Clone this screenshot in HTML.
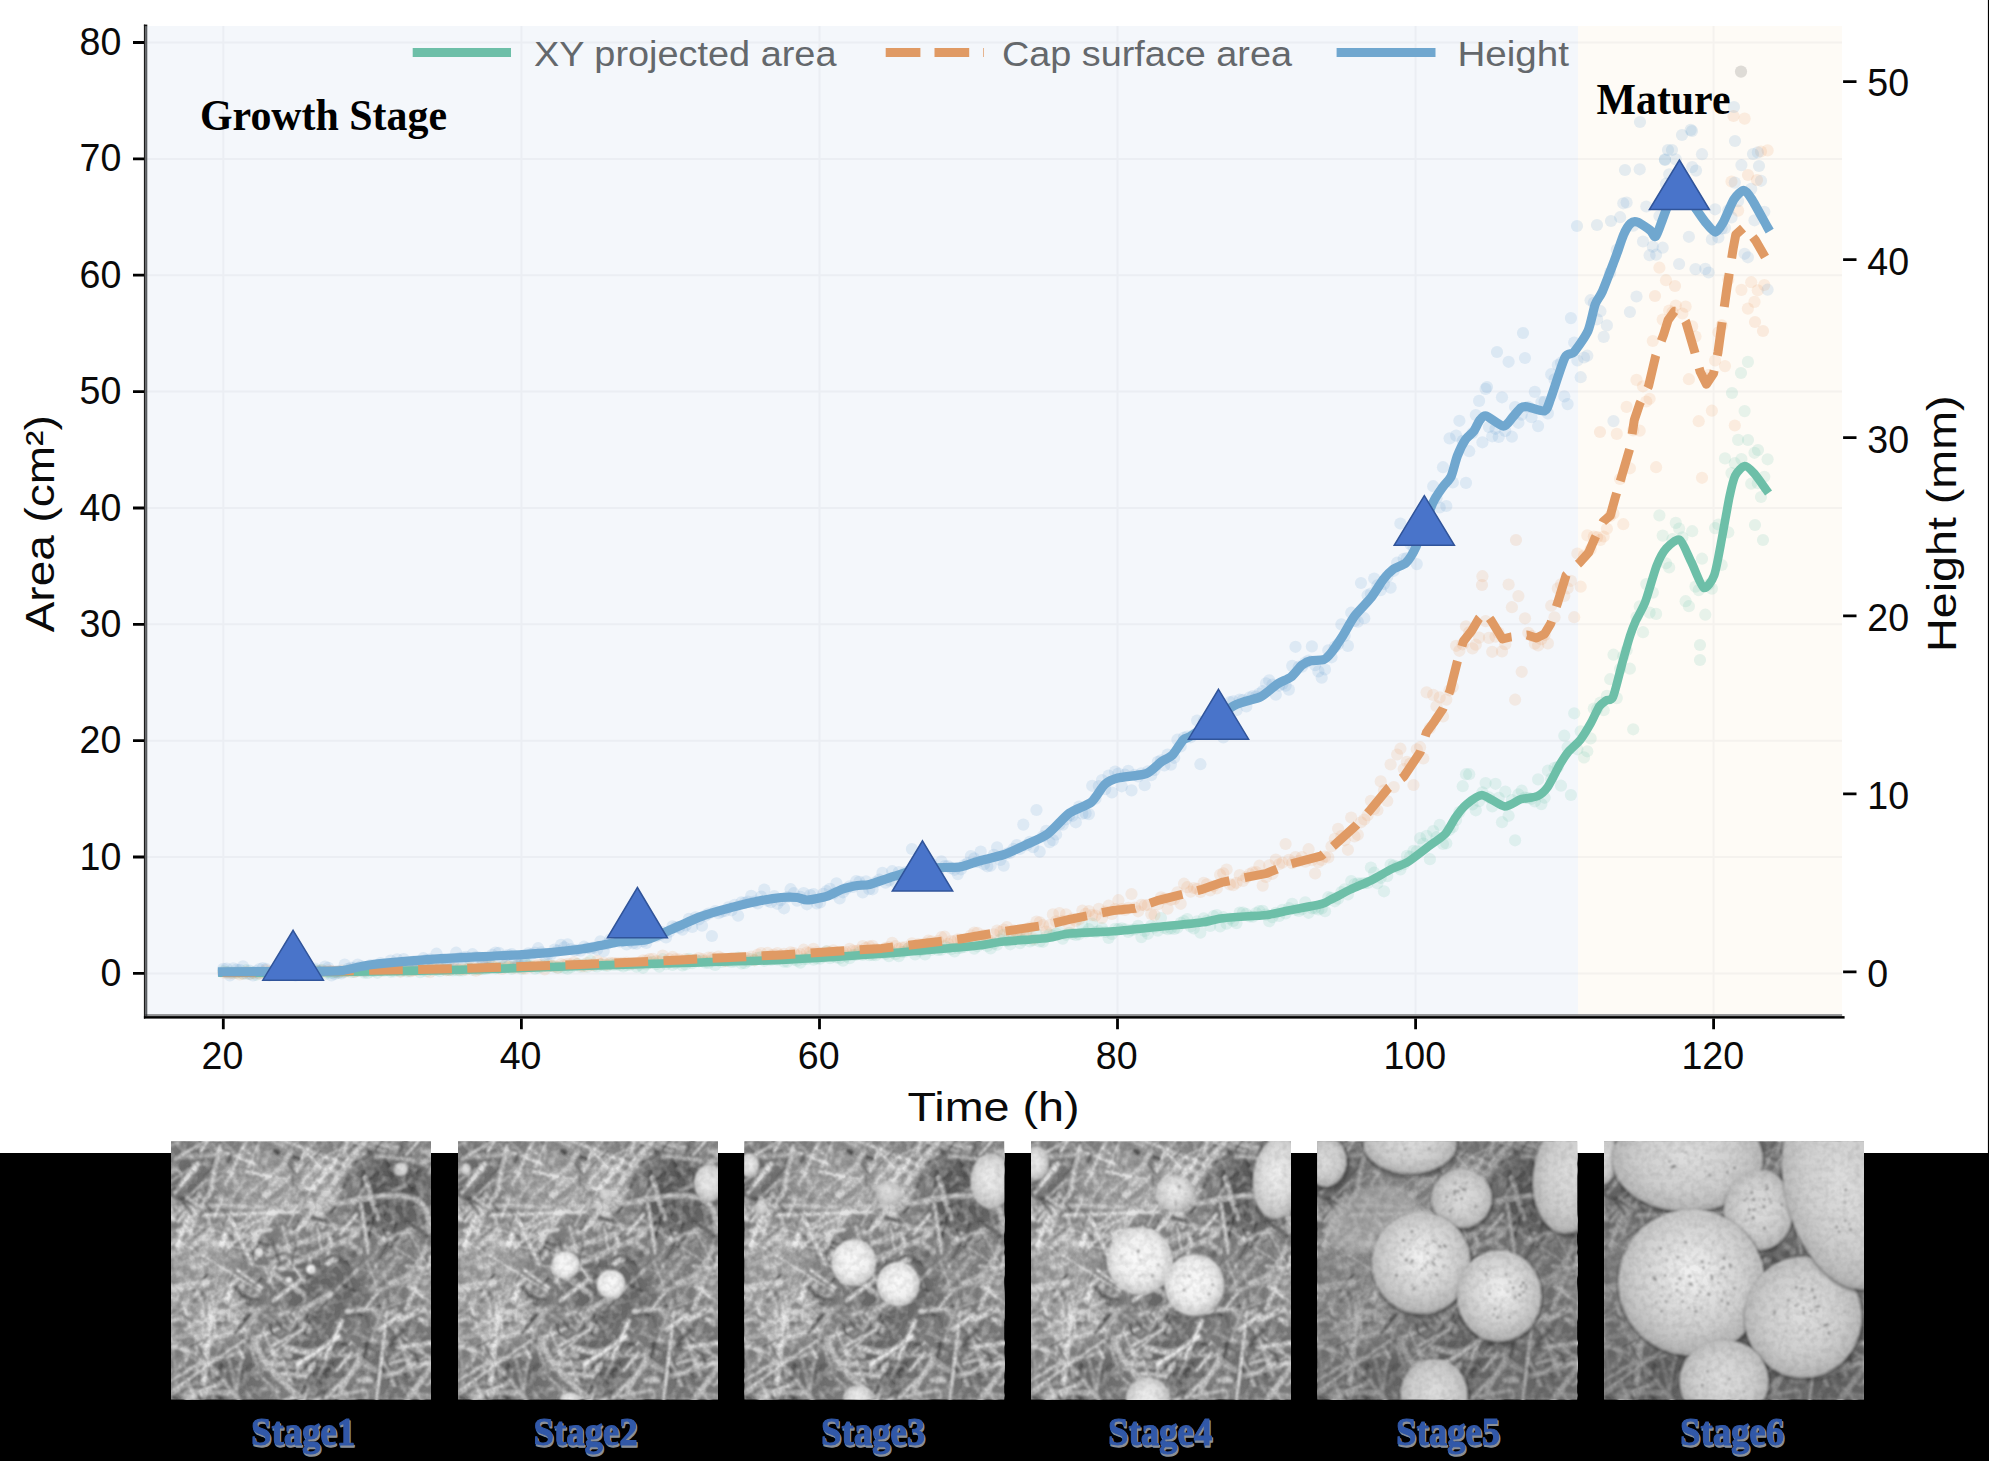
<!DOCTYPE html>
<html><head><meta charset="utf-8"><title>Mushroom growth</title>
<style>
html,body{margin:0;padding:0;background:#fff;}
body{width:1989px;height:1461px;overflow:hidden;position:relative;font-family:"Liberation Sans",sans-serif;}
</style></head><body>
<svg width="1989" height="1461" viewBox="0 0 1989 1461" style="position:absolute;left:0;top:0;display:block">
<rect width="1989" height="1461" fill="#fff"/>
<rect x="147" y="26" width="1431" height="988.2" fill="#f4f7fb"/>
<rect x="1578" y="26" width="264" height="988.2" fill="#fefbf6"/>
<path d="M147 973.4 H1842 M147 857 H1842 M147 740.7 H1842 M147 624.3 H1842 M147 508 H1842 M147 391.6 H1842 M147 275.2 H1842 M147 158.9 H1842 M147 42.5 H1842 M223.3 26 V1014.2 M521.4 26 V1014.2 M819.5 26 V1014.2 M1117.5 26 V1014.2 M1415.6 26 V1014.2 M1713.6 26 V1014.2" stroke="#7c848c" stroke-width="2" fill="none" opacity="0.07"/>
<g fill="#66c2a5" fill-opacity="0.15"><circle cx="223.3" cy="971.1" r="6.1"/><circle cx="226.6" cy="972.1" r="6.1"/><circle cx="229.9" cy="972.3" r="6.1"/><circle cx="233.2" cy="972.5" r="6.1"/><circle cx="236.5" cy="972.8" r="6.1"/><circle cx="239.7" cy="972.4" r="6.1"/><circle cx="243" cy="973.7" r="6.1"/><circle cx="246.3" cy="970.2" r="6.1"/><circle cx="249.6" cy="973.8" r="6.1"/><circle cx="252.9" cy="972.4" r="6.1"/><circle cx="256.1" cy="974.8" r="6.1"/><circle cx="259.4" cy="972.9" r="6.1"/><circle cx="262.7" cy="972.7" r="6.1"/><circle cx="266" cy="972.8" r="6.1"/><circle cx="269.3" cy="973.2" r="6.1"/><circle cx="272.5" cy="971.8" r="6.1"/><circle cx="275.8" cy="972.1" r="6.1"/><circle cx="279.1" cy="971.8" r="6.1"/><circle cx="282.4" cy="974.1" r="6.1"/><circle cx="285.6" cy="972.5" r="6.1"/><circle cx="288.9" cy="972.6" r="6.1"/><circle cx="292.2" cy="974" r="6.1"/><circle cx="295.5" cy="971.2" r="6.1"/><circle cx="298.8" cy="973.4" r="6.1"/><circle cx="302" cy="972.5" r="6.1"/><circle cx="305.3" cy="972.4" r="6.1"/><circle cx="308.6" cy="970.1" r="6.1"/><circle cx="311.9" cy="972.8" r="6.1"/><circle cx="315.2" cy="970.1" r="6.1"/><circle cx="318.4" cy="971.2" r="6.1"/><circle cx="321.7" cy="969.8" r="6.1"/><circle cx="325" cy="974" r="6.1"/><circle cx="328.3" cy="972.1" r="6.1"/><circle cx="331.5" cy="972.9" r="6.1"/><circle cx="334.8" cy="972.5" r="6.1"/><circle cx="338.1" cy="972.9" r="6.1"/><circle cx="341.4" cy="971.9" r="6.1"/><circle cx="344.7" cy="971.4" r="6.1"/><circle cx="347.9" cy="970.7" r="6.1"/><circle cx="351.2" cy="972.1" r="6.1"/><circle cx="354.5" cy="972" r="6.1"/><circle cx="357.8" cy="971" r="6.1"/><circle cx="361.1" cy="970.3" r="6.1"/><circle cx="364.3" cy="972.6" r="6.1"/><circle cx="367.6" cy="972.9" r="6.1"/><circle cx="370.9" cy="971.5" r="6.1"/><circle cx="374.2" cy="971.1" r="6.1"/><circle cx="377.4" cy="972.8" r="6.1"/><circle cx="380.7" cy="970.1" r="6.1"/><circle cx="384" cy="971" r="6.1"/><circle cx="387.3" cy="969.1" r="6.1"/><circle cx="390.6" cy="971.8" r="6.1"/><circle cx="393.8" cy="971.5" r="6.1"/><circle cx="397.1" cy="970.1" r="6.1"/><circle cx="400.4" cy="971.3" r="6.1"/><circle cx="403.7" cy="970.3" r="6.1"/><circle cx="407" cy="971.4" r="6.1"/><circle cx="410.2" cy="970.6" r="6.1"/><circle cx="413.5" cy="970" r="6.1"/><circle cx="416.8" cy="969.4" r="6.1"/><circle cx="420.1" cy="972.1" r="6.1"/><circle cx="423.3" cy="970.4" r="6.1"/><circle cx="426.6" cy="971.1" r="6.1"/><circle cx="429.9" cy="969.4" r="6.1"/><circle cx="433.2" cy="970.3" r="6.1"/><circle cx="436.5" cy="970" r="6.1"/><circle cx="439.7" cy="971.1" r="6.1"/><circle cx="443" cy="969.2" r="6.1"/><circle cx="446.3" cy="970.2" r="6.1"/><circle cx="449.6" cy="970.2" r="6.1"/><circle cx="452.9" cy="970.5" r="6.1"/><circle cx="456.1" cy="970.1" r="6.1"/><circle cx="459.4" cy="970.4" r="6.1"/><circle cx="462.7" cy="970.4" r="6.1"/><circle cx="466" cy="968.8" r="6.1"/><circle cx="469.2" cy="968.3" r="6.1"/><circle cx="472.5" cy="969.8" r="6.1"/><circle cx="475.8" cy="969.3" r="6.1"/><circle cx="479.1" cy="969.4" r="6.1"/><circle cx="482.4" cy="969.1" r="6.1"/><circle cx="485.6" cy="968.9" r="6.1"/><circle cx="488.9" cy="968.1" r="6.1"/><circle cx="492.2" cy="965.4" r="6.1"/><circle cx="495.5" cy="968.3" r="6.1"/><circle cx="498.8" cy="968.1" r="6.1"/><circle cx="502" cy="966.8" r="6.1"/><circle cx="505.3" cy="967.6" r="6.1"/><circle cx="508.6" cy="966.4" r="6.1"/><circle cx="511.9" cy="968.8" r="6.1"/><circle cx="515.2" cy="966.2" r="6.1"/><circle cx="518.4" cy="967.1" r="6.1"/><circle cx="521.7" cy="968.9" r="6.1"/><circle cx="525" cy="963.2" r="6.1"/><circle cx="528.3" cy="965.2" r="6.1"/><circle cx="531.5" cy="966.3" r="6.1"/><circle cx="534.8" cy="968.7" r="6.1"/><circle cx="538.1" cy="967.7" r="6.1"/><circle cx="541.4" cy="966.9" r="6.1"/><circle cx="544.7" cy="965" r="6.1"/><circle cx="547.9" cy="966.4" r="6.1"/><circle cx="551.2" cy="965.5" r="6.1"/><circle cx="554.5" cy="966.9" r="6.1"/><circle cx="557.8" cy="967.7" r="6.1"/><circle cx="561.1" cy="966.7" r="6.1"/><circle cx="564.3" cy="967.7" r="6.1"/><circle cx="567.6" cy="968.6" r="6.1"/><circle cx="570.9" cy="967.1" r="6.1"/><circle cx="574.2" cy="965.6" r="6.1"/><circle cx="577.4" cy="964.2" r="6.1"/><circle cx="580.7" cy="966.9" r="6.1"/><circle cx="584" cy="964.7" r="6.1"/><circle cx="587.3" cy="966.8" r="6.1"/><circle cx="590.6" cy="960.8" r="6.1"/><circle cx="593.8" cy="965.6" r="6.1"/><circle cx="597.1" cy="966.4" r="6.1"/><circle cx="600.4" cy="964.7" r="6.1"/><circle cx="603.7" cy="965.2" r="6.1"/><circle cx="607" cy="966" r="6.1"/><circle cx="610.2" cy="964.1" r="6.1"/><circle cx="613.5" cy="965" r="6.1"/><circle cx="616.8" cy="964.5" r="6.1"/><circle cx="620.1" cy="965.1" r="6.1"/><circle cx="623.3" cy="966.5" r="6.1"/><circle cx="626.6" cy="965.1" r="6.1"/><circle cx="629.9" cy="964.6" r="6.1"/><circle cx="633.2" cy="963.9" r="6.1"/><circle cx="636.5" cy="966.6" r="6.1"/><circle cx="639.7" cy="964.6" r="6.1"/><circle cx="643" cy="967.8" r="6.1"/><circle cx="646.3" cy="964.5" r="6.1"/><circle cx="649.6" cy="962.7" r="6.1"/><circle cx="652.9" cy="961.9" r="6.1"/><circle cx="656.1" cy="964.2" r="6.1"/><circle cx="659.4" cy="966.6" r="6.1"/><circle cx="662.7" cy="959.2" r="6.1"/><circle cx="666" cy="964.2" r="6.1"/><circle cx="669.2" cy="962.2" r="6.1"/><circle cx="672.5" cy="964.9" r="6.1"/><circle cx="675.8" cy="963.2" r="6.1"/><circle cx="679.1" cy="961.8" r="6.1"/><circle cx="682.4" cy="965.5" r="6.1"/><circle cx="685.6" cy="964.4" r="6.1"/><circle cx="688.9" cy="958.9" r="6.1"/><circle cx="692.2" cy="963.2" r="6.1"/><circle cx="695.5" cy="960.1" r="6.1"/><circle cx="698.8" cy="961.3" r="6.1"/><circle cx="702" cy="960.5" r="6.1"/><circle cx="705.3" cy="962.7" r="6.1"/><circle cx="708.6" cy="962.9" r="6.1"/><circle cx="711.9" cy="960.3" r="6.1"/><circle cx="715.1" cy="965" r="6.1"/><circle cx="718.4" cy="959.6" r="6.1"/><circle cx="721.7" cy="962" r="6.1"/><circle cx="725" cy="960.5" r="6.1"/><circle cx="728.3" cy="961.2" r="6.1"/><circle cx="731.5" cy="961.9" r="6.1"/><circle cx="734.8" cy="961.5" r="6.1"/><circle cx="738.1" cy="957.7" r="6.1"/><circle cx="741.4" cy="963.4" r="6.1"/><circle cx="744.7" cy="963.2" r="6.1"/><circle cx="747.9" cy="961.1" r="6.1"/><circle cx="751.2" cy="959.2" r="6.1"/><circle cx="754.5" cy="960.3" r="6.1"/><circle cx="757.8" cy="957.9" r="6.1"/><circle cx="761.1" cy="957.1" r="6.1"/><circle cx="764.3" cy="960.8" r="6.1"/><circle cx="767.6" cy="959.1" r="6.1"/><circle cx="770.9" cy="960" r="6.1"/><circle cx="774.2" cy="957.4" r="6.1"/><circle cx="777.4" cy="959.6" r="6.1"/><circle cx="780.7" cy="957.9" r="6.1"/><circle cx="784" cy="961.6" r="6.1"/><circle cx="787.3" cy="961.8" r="6.1"/><circle cx="790.6" cy="956.2" r="6.1"/><circle cx="793.8" cy="959.7" r="6.1"/><circle cx="797.1" cy="960.7" r="6.1"/><circle cx="800.4" cy="962.7" r="6.1"/><circle cx="803.7" cy="959.2" r="6.1"/><circle cx="807" cy="959" r="6.1"/><circle cx="810.2" cy="956.3" r="6.1"/><circle cx="813.5" cy="959.7" r="6.1"/><circle cx="816.8" cy="958.5" r="6.1"/><circle cx="820.1" cy="958.6" r="6.1"/><circle cx="823.3" cy="956.8" r="6.1"/><circle cx="826.6" cy="951.3" r="6.1"/><circle cx="829.9" cy="958.1" r="6.1"/><circle cx="833.2" cy="956.3" r="6.1"/><circle cx="836.5" cy="957.5" r="6.1"/><circle cx="839.7" cy="958.3" r="6.1"/><circle cx="843" cy="960.7" r="6.1"/><circle cx="846.3" cy="956.3" r="6.1"/><circle cx="849.6" cy="958.2" r="6.1"/><circle cx="852.9" cy="955" r="6.1"/><circle cx="856.1" cy="954.8" r="6.1"/><circle cx="859.4" cy="952.3" r="6.1"/><circle cx="862.7" cy="954.9" r="6.1"/><circle cx="866" cy="953.2" r="6.1"/><circle cx="869.2" cy="955.2" r="6.1"/><circle cx="872.5" cy="955" r="6.1"/><circle cx="875.8" cy="955.1" r="6.1"/><circle cx="879.1" cy="950.6" r="6.1"/><circle cx="882.4" cy="953.1" r="6.1"/><circle cx="885.6" cy="953.8" r="6.1"/><circle cx="888.9" cy="956.1" r="6.1"/><circle cx="892.2" cy="952.3" r="6.1"/><circle cx="895.5" cy="954.1" r="6.1"/><circle cx="898.8" cy="956.2" r="6.1"/><circle cx="902" cy="952" r="6.1"/><circle cx="905.3" cy="951.6" r="6.1"/><circle cx="908.6" cy="948.4" r="6.1"/><circle cx="911.9" cy="948.4" r="6.1"/><circle cx="915.1" cy="954.5" r="6.1"/><circle cx="918.4" cy="950.6" r="6.1"/><circle cx="921.7" cy="950.1" r="6.1"/><circle cx="925" cy="954.5" r="6.1"/><circle cx="928.3" cy="944" r="6.1"/><circle cx="931.5" cy="949.8" r="6.1"/><circle cx="934.8" cy="947.1" r="6.1"/><circle cx="938.1" cy="950" r="6.1"/><circle cx="941.4" cy="949.7" r="6.1"/><circle cx="944.7" cy="946" r="6.1"/><circle cx="947.9" cy="947.8" r="6.1"/><circle cx="951.2" cy="949.1" r="6.1"/><circle cx="954.5" cy="951.5" r="6.1"/><circle cx="957.8" cy="948.1" r="6.1"/><circle cx="961" cy="947.6" r="6.1"/><circle cx="964.3" cy="947" r="6.1"/><circle cx="967.6" cy="944.7" r="6.1"/><circle cx="970.9" cy="943.6" r="6.1"/><circle cx="974.2" cy="948.6" r="6.1"/><circle cx="977.4" cy="946.3" r="6.1"/><circle cx="980.7" cy="944" r="6.1"/><circle cx="984" cy="943.5" r="6.1"/><circle cx="987.3" cy="946" r="6.1"/><circle cx="990.6" cy="948.4" r="6.1"/><circle cx="993.8" cy="943.6" r="6.1"/><circle cx="997.1" cy="944.7" r="6.1"/><circle cx="1000.4" cy="939.5" r="6.1"/><circle cx="1003.7" cy="934.8" r="6.1"/><circle cx="1006.9" cy="941.1" r="6.1"/><circle cx="1010.2" cy="944.3" r="6.1"/><circle cx="1013.5" cy="938.6" r="6.1"/><circle cx="1016.8" cy="936.2" r="6.1"/><circle cx="1020.1" cy="943.1" r="6.1"/><circle cx="1023.3" cy="940.3" r="6.1"/><circle cx="1026.6" cy="935.5" r="6.1"/><circle cx="1029.9" cy="941.4" r="6.1"/><circle cx="1033.2" cy="940.1" r="6.1"/><circle cx="1036.5" cy="934" r="6.1"/><circle cx="1039.7" cy="941.4" r="6.1"/><circle cx="1043" cy="941.8" r="6.1"/><circle cx="1046.3" cy="936.7" r="6.1"/><circle cx="1049.6" cy="934.6" r="6.1"/><circle cx="1052.9" cy="935.5" r="6.1"/><circle cx="1056.1" cy="933.6" r="6.1"/><circle cx="1059.4" cy="932.3" r="6.1"/><circle cx="1062.7" cy="938.6" r="6.1"/><circle cx="1066" cy="934.8" r="6.1"/><circle cx="1069.2" cy="932.8" r="6.1"/><circle cx="1072.5" cy="933.9" r="6.1"/><circle cx="1075.8" cy="934.9" r="6.1"/><circle cx="1079.1" cy="934.3" r="6.1"/><circle cx="1082.4" cy="925.5" r="6.1"/><circle cx="1085.6" cy="932.3" r="6.1"/><circle cx="1088.9" cy="929.2" r="6.1"/><circle cx="1092.2" cy="923.7" r="6.1"/><circle cx="1095.5" cy="932.2" r="6.1"/><circle cx="1098.8" cy="931.2" r="6.1"/><circle cx="1102" cy="928.1" r="6.1"/><circle cx="1105.3" cy="932" r="6.1"/><circle cx="1108.6" cy="938" r="6.1"/><circle cx="1111.9" cy="933.9" r="6.1"/><circle cx="1115.1" cy="928.9" r="6.1"/><circle cx="1118.4" cy="929.2" r="6.1"/><circle cx="1121.7" cy="928.3" r="6.1"/><circle cx="1125" cy="929.3" r="6.1"/><circle cx="1128.3" cy="932" r="6.1"/><circle cx="1131.5" cy="929.9" r="6.1"/><circle cx="1134.8" cy="929.4" r="6.1"/><circle cx="1138.1" cy="925.9" r="6.1"/><circle cx="1141.4" cy="937.1" r="6.1"/><circle cx="1144.7" cy="931" r="6.1"/><circle cx="1147.9" cy="933.8" r="6.1"/><circle cx="1151.2" cy="925.8" r="6.1"/><circle cx="1154.5" cy="927.4" r="6.1"/><circle cx="1157.8" cy="930.7" r="6.1"/><circle cx="1161" cy="918.1" r="6.1"/><circle cx="1164.3" cy="928" r="6.1"/><circle cx="1167.6" cy="929.2" r="6.1"/><circle cx="1170.9" cy="928.5" r="6.1"/><circle cx="1174.2" cy="929" r="6.1"/><circle cx="1177.4" cy="927.7" r="6.1"/><circle cx="1180.7" cy="922.9" r="6.1"/><circle cx="1184" cy="921.2" r="6.1"/><circle cx="1187.3" cy="919" r="6.1"/><circle cx="1190.6" cy="926.4" r="6.1"/><circle cx="1193.8" cy="928.4" r="6.1"/><circle cx="1197.1" cy="921.4" r="6.1"/><circle cx="1200.4" cy="932.6" r="6.1"/><circle cx="1203.7" cy="918.4" r="6.1"/><circle cx="1206.9" cy="920.7" r="6.1"/><circle cx="1210.2" cy="925.9" r="6.1"/><circle cx="1213.5" cy="916.2" r="6.1"/><circle cx="1216.8" cy="915.1" r="6.1"/><circle cx="1220.1" cy="926.5" r="6.1"/><circle cx="1223.3" cy="917.2" r="6.1"/><circle cx="1226.6" cy="923.7" r="6.1"/><circle cx="1229.9" cy="918.7" r="6.1"/><circle cx="1233.2" cy="921" r="6.1"/><circle cx="1236.5" cy="923.1" r="6.1"/><circle cx="1239.7" cy="912.5" r="6.1"/><circle cx="1243" cy="912.6" r="6.1"/><circle cx="1246.3" cy="914" r="6.1"/><circle cx="1249.6" cy="916.5" r="6.1"/><circle cx="1252.8" cy="916.7" r="6.1"/><circle cx="1256.1" cy="913" r="6.1"/><circle cx="1259.4" cy="911" r="6.1"/><circle cx="1262.7" cy="910.8" r="6.1"/><circle cx="1266" cy="914.6" r="6.1"/><circle cx="1269.2" cy="921.2" r="6.1"/><circle cx="1272.5" cy="917.1" r="6.1"/><circle cx="1275.8" cy="912.8" r="6.1"/><circle cx="1279.1" cy="916" r="6.1"/><circle cx="1282.4" cy="909.8" r="6.1"/><circle cx="1285.6" cy="913.5" r="6.1"/><circle cx="1288.9" cy="908" r="6.1"/><circle cx="1292.2" cy="903.8" r="6.1"/><circle cx="1295.5" cy="909.7" r="6.1"/><circle cx="1298.8" cy="911" r="6.1"/><circle cx="1302" cy="909.1" r="6.1"/><circle cx="1305.3" cy="902.4" r="6.1"/><circle cx="1308.6" cy="912.8" r="6.1"/><circle cx="1311.9" cy="908.3" r="6.1"/><circle cx="1315.1" cy="908.3" r="6.1"/><circle cx="1318.4" cy="909.5" r="6.1"/><circle cx="1321.7" cy="908.4" r="6.1"/><circle cx="1325" cy="911.2" r="6.1"/><circle cx="1328.3" cy="897.2" r="6.1"/><circle cx="1331.5" cy="897.9" r="6.1"/><circle cx="1334.8" cy="901.3" r="6.1"/><circle cx="1338.1" cy="898.6" r="6.1"/><circle cx="1341.4" cy="892" r="6.1"/><circle cx="1344.7" cy="889.3" r="6.1"/><circle cx="1347.9" cy="894.5" r="6.1"/><circle cx="1351.2" cy="881" r="6.1"/><circle cx="1354.5" cy="884.2" r="6.1"/><circle cx="1357.8" cy="883.3" r="6.1"/><circle cx="1361" cy="883.5" r="6.1"/><circle cx="1364.3" cy="883.1" r="6.1"/><circle cx="1367.6" cy="883" r="6.1"/><circle cx="1370.9" cy="867.5" r="6.1"/><circle cx="1374.2" cy="872.7" r="6.1"/><circle cx="1377.4" cy="883.3" r="6.1"/><circle cx="1380.7" cy="877.8" r="6.1"/><circle cx="1384" cy="891.3" r="6.1"/><circle cx="1387.3" cy="876.1" r="6.1"/><circle cx="1390.6" cy="864.7" r="6.1"/><circle cx="1393.8" cy="865.5" r="6.1"/><circle cx="1397.1" cy="866.7" r="6.1"/><circle cx="1400.4" cy="869.5" r="6.1"/><circle cx="1403.7" cy="864.3" r="6.1"/><circle cx="1406.9" cy="855.9" r="6.1"/><circle cx="1410.2" cy="856.6" r="6.1"/><circle cx="1413.5" cy="850.9" r="6.1"/><circle cx="1416.8" cy="851.4" r="6.1"/><circle cx="1420.1" cy="838.2" r="6.1"/><circle cx="1423.3" cy="843.5" r="6.1"/><circle cx="1426.6" cy="835.9" r="6.1"/><circle cx="1429.9" cy="859.2" r="6.1"/><circle cx="1433.2" cy="831.1" r="6.1"/><circle cx="1436.5" cy="837.2" r="6.1"/><circle cx="1439.7" cy="824.9" r="6.1"/><circle cx="1443" cy="844" r="6.1"/><circle cx="1446.3" cy="843.3" r="6.1"/><circle cx="1449.6" cy="829.8" r="6.1"/><circle cx="1452.8" cy="827" r="6.1"/><circle cx="1456.1" cy="819.9" r="6.1"/><circle cx="1459.4" cy="812.1" r="6.1"/><circle cx="1462.7" cy="786.2" r="6.1"/><circle cx="1466" cy="774.2" r="6.1"/><circle cx="1469.2" cy="774.2" r="6.1"/><circle cx="1472.5" cy="804.4" r="6.1"/><circle cx="1475.8" cy="810.3" r="6.1"/><circle cx="1479.1" cy="801.1" r="6.1"/><circle cx="1482.4" cy="792.4" r="6.1"/><circle cx="1485.6" cy="783.1" r="6.1"/><circle cx="1488.9" cy="797.4" r="6.1"/><circle cx="1492.2" cy="806.5" r="6.1"/><circle cx="1495.5" cy="783.8" r="6.1"/><circle cx="1498.7" cy="797.9" r="6.1"/><circle cx="1502" cy="822.2" r="6.1"/><circle cx="1505.3" cy="791.6" r="6.1"/><circle cx="1508.6" cy="815.8" r="6.1"/><circle cx="1511.9" cy="800.1" r="6.1"/><circle cx="1515.1" cy="840.3" r="6.1"/><circle cx="1518.4" cy="794.3" r="6.1"/><circle cx="1521.7" cy="790.7" r="6.1"/><circle cx="1525" cy="797.6" r="6.1"/><circle cx="1528.3" cy="797.9" r="6.1"/><circle cx="1531.5" cy="798.8" r="6.1"/><circle cx="1534.8" cy="801.4" r="6.1"/><circle cx="1538.1" cy="779.4" r="6.1"/><circle cx="1541.4" cy="804.1" r="6.1"/><circle cx="1544.6" cy="797.7" r="6.1"/><circle cx="1547.9" cy="770.7" r="6.1"/><circle cx="1551.2" cy="778.8" r="6.1"/><circle cx="1554.5" cy="767.8" r="6.1"/><circle cx="1557.8" cy="766.9" r="6.1"/><circle cx="1561" cy="785.7" r="6.1"/><circle cx="1564.3" cy="735.7" r="6.1"/><circle cx="1567.6" cy="747.2" r="6.1"/><circle cx="1570.9" cy="795" r="6.1"/><circle cx="1574.2" cy="713.3" r="6.1"/><circle cx="1577.4" cy="749.3" r="6.1"/><circle cx="1580.7" cy="731.3" r="6.1"/><circle cx="1584" cy="757.4" r="6.1"/><circle cx="1587.3" cy="751.3" r="6.1"/><circle cx="1590.6" cy="738.4" r="6.1"/><circle cx="1593.8" cy="708.5" r="6.1"/><circle cx="1597.1" cy="709.1" r="6.1"/><circle cx="1600.4" cy="702.6" r="6.1"/><circle cx="1603.7" cy="710.2" r="6.1"/><circle cx="1606.9" cy="695.8" r="6.1"/><circle cx="1610.2" cy="679.2" r="6.1"/><circle cx="1613.5" cy="654.7" r="6.1"/><circle cx="1616.8" cy="698.1" r="6.1"/><circle cx="1620.1" cy="669.1" r="6.1"/><circle cx="1623.3" cy="656.3" r="6.1"/><circle cx="1626.6" cy="650.3" r="6.1"/><circle cx="1629.9" cy="668.7" r="6.1"/><circle cx="1633.2" cy="729.3" r="6.1"/><circle cx="1636.5" cy="617" r="6.1"/><circle cx="1639.7" cy="606.4" r="6.1"/><circle cx="1643" cy="632.2" r="6.1"/><circle cx="1646.3" cy="584.1" r="6.1"/><circle cx="1649.6" cy="612.6" r="6.1"/><circle cx="1652.8" cy="592.6" r="6.1"/><circle cx="1656.1" cy="613.9" r="6.1"/><circle cx="1659.4" cy="515.4" r="6.1"/><circle cx="1662.7" cy="535.6" r="6.1"/><circle cx="1666" cy="563.3" r="6.1"/><circle cx="1669.2" cy="567.5" r="6.1"/><circle cx="1672.5" cy="539.2" r="6.1"/><circle cx="1675.8" cy="522.9" r="6.1"/><circle cx="1679.1" cy="528.6" r="6.1"/><circle cx="1682.4" cy="537.3" r="6.1"/><circle cx="1685.6" cy="601.2" r="6.1"/><circle cx="1688.9" cy="606.2" r="6.1"/><circle cx="1692.2" cy="531.2" r="6.1"/><circle cx="1695.5" cy="586.6" r="6.1"/><circle cx="1698.7" cy="590.1" r="6.1"/><circle cx="1702" cy="558.7" r="6.1"/><circle cx="1705.3" cy="614.7" r="6.1"/><circle cx="1708.6" cy="584.7" r="6.1"/><circle cx="1711.9" cy="588.6" r="6.1"/><circle cx="1715.1" cy="528.1" r="6.1"/><circle cx="1718.4" cy="524.5" r="6.1"/><circle cx="1721.7" cy="565" r="6.1"/><circle cx="1725" cy="458.4" r="6.1"/><circle cx="1728.3" cy="532.3" r="6.1"/><circle cx="1731.5" cy="473.1" r="6.1"/><circle cx="1734.8" cy="463.2" r="6.1"/><circle cx="1738.1" cy="439.9" r="6.1"/><circle cx="1741.4" cy="459.1" r="6.1"/><circle cx="1744.6" cy="411.1" r="6.1"/><circle cx="1747.9" cy="361.9" r="6.1"/><circle cx="1751.2" cy="483.7" r="6.1"/><circle cx="1754.5" cy="452.8" r="6.1"/><circle cx="1757.8" cy="483.2" r="6.1"/><circle cx="1761" cy="497" r="6.1"/><circle cx="1764.3" cy="476.8" r="6.1"/><circle cx="1767.6" cy="459.3" r="6.1"/></g>
<g fill="#e8975c" fill-opacity="0.15"><circle cx="223.3" cy="972.6" r="6.1"/><circle cx="226.6" cy="972.6" r="6.1"/><circle cx="229.9" cy="973.3" r="6.1"/><circle cx="233.2" cy="973.3" r="6.1"/><circle cx="236.5" cy="972.6" r="6.1"/><circle cx="239.7" cy="974.5" r="6.1"/><circle cx="243" cy="973.5" r="6.1"/><circle cx="246.3" cy="971.8" r="6.1"/><circle cx="249.6" cy="974" r="6.1"/><circle cx="252.9" cy="972.8" r="6.1"/><circle cx="256.1" cy="972.9" r="6.1"/><circle cx="259.4" cy="973.8" r="6.1"/><circle cx="262.7" cy="972.6" r="6.1"/><circle cx="266" cy="970.1" r="6.1"/><circle cx="269.3" cy="971.7" r="6.1"/><circle cx="272.5" cy="971.8" r="6.1"/><circle cx="275.8" cy="972.6" r="6.1"/><circle cx="279.1" cy="970.1" r="6.1"/><circle cx="282.4" cy="973.4" r="6.1"/><circle cx="285.6" cy="971" r="6.1"/><circle cx="288.9" cy="971.6" r="6.1"/><circle cx="292.2" cy="972" r="6.1"/><circle cx="295.5" cy="971.2" r="6.1"/><circle cx="298.8" cy="971.9" r="6.1"/><circle cx="302" cy="971.7" r="6.1"/><circle cx="305.3" cy="972.6" r="6.1"/><circle cx="308.6" cy="970.9" r="6.1"/><circle cx="311.9" cy="971.1" r="6.1"/><circle cx="315.2" cy="971.3" r="6.1"/><circle cx="318.4" cy="971.5" r="6.1"/><circle cx="321.7" cy="970.7" r="6.1"/><circle cx="325" cy="971.8" r="6.1"/><circle cx="328.3" cy="970.4" r="6.1"/><circle cx="331.5" cy="971.1" r="6.1"/><circle cx="334.8" cy="971.7" r="6.1"/><circle cx="338.1" cy="972.1" r="6.1"/><circle cx="341.4" cy="970.6" r="6.1"/><circle cx="344.7" cy="971.9" r="6.1"/><circle cx="347.9" cy="971.2" r="6.1"/><circle cx="351.2" cy="969.5" r="6.1"/><circle cx="354.5" cy="971.6" r="6.1"/><circle cx="357.8" cy="970.9" r="6.1"/><circle cx="361.1" cy="968.8" r="6.1"/><circle cx="364.3" cy="970.9" r="6.1"/><circle cx="367.6" cy="967.9" r="6.1"/><circle cx="370.9" cy="968.9" r="6.1"/><circle cx="374.2" cy="970.1" r="6.1"/><circle cx="377.4" cy="968.9" r="6.1"/><circle cx="380.7" cy="970.7" r="6.1"/><circle cx="384" cy="968.9" r="6.1"/><circle cx="387.3" cy="967" r="6.1"/><circle cx="390.6" cy="969.9" r="6.1"/><circle cx="393.8" cy="969.1" r="6.1"/><circle cx="397.1" cy="968.9" r="6.1"/><circle cx="400.4" cy="971.7" r="6.1"/><circle cx="403.7" cy="969.3" r="6.1"/><circle cx="407" cy="969.6" r="6.1"/><circle cx="410.2" cy="971.5" r="6.1"/><circle cx="413.5" cy="970.4" r="6.1"/><circle cx="416.8" cy="970.1" r="6.1"/><circle cx="420.1" cy="969.2" r="6.1"/><circle cx="423.3" cy="967.1" r="6.1"/><circle cx="426.6" cy="966.2" r="6.1"/><circle cx="429.9" cy="972.1" r="6.1"/><circle cx="433.2" cy="968.2" r="6.1"/><circle cx="436.5" cy="969.1" r="6.1"/><circle cx="439.7" cy="968.3" r="6.1"/><circle cx="443" cy="969.1" r="6.1"/><circle cx="446.3" cy="970.2" r="6.1"/><circle cx="449.6" cy="970" r="6.1"/><circle cx="452.9" cy="968.4" r="6.1"/><circle cx="456.1" cy="968.3" r="6.1"/><circle cx="459.4" cy="969.6" r="6.1"/><circle cx="462.7" cy="969" r="6.1"/><circle cx="466" cy="969.7" r="6.1"/><circle cx="469.2" cy="968.2" r="6.1"/><circle cx="472.5" cy="968.2" r="6.1"/><circle cx="475.8" cy="970.8" r="6.1"/><circle cx="479.1" cy="969.1" r="6.1"/><circle cx="482.4" cy="964.5" r="6.1"/><circle cx="485.6" cy="967.2" r="6.1"/><circle cx="488.9" cy="967" r="6.1"/><circle cx="492.2" cy="966.4" r="6.1"/><circle cx="495.5" cy="967" r="6.1"/><circle cx="498.8" cy="967.5" r="6.1"/><circle cx="502" cy="968.9" r="6.1"/><circle cx="505.3" cy="965.3" r="6.1"/><circle cx="508.6" cy="966.8" r="6.1"/><circle cx="511.9" cy="967.2" r="6.1"/><circle cx="515.2" cy="967.8" r="6.1"/><circle cx="518.4" cy="965.4" r="6.1"/><circle cx="521.7" cy="967.6" r="6.1"/><circle cx="525" cy="968.7" r="6.1"/><circle cx="528.3" cy="966.6" r="6.1"/><circle cx="531.5" cy="966.8" r="6.1"/><circle cx="534.8" cy="965.9" r="6.1"/><circle cx="538.1" cy="964.8" r="6.1"/><circle cx="541.4" cy="965" r="6.1"/><circle cx="544.7" cy="969.4" r="6.1"/><circle cx="547.9" cy="965" r="6.1"/><circle cx="551.2" cy="965.8" r="6.1"/><circle cx="554.5" cy="965.9" r="6.1"/><circle cx="557.8" cy="967.7" r="6.1"/><circle cx="561.1" cy="964.2" r="6.1"/><circle cx="564.3" cy="965" r="6.1"/><circle cx="567.6" cy="963.9" r="6.1"/><circle cx="570.9" cy="964.4" r="6.1"/><circle cx="574.2" cy="962.1" r="6.1"/><circle cx="577.4" cy="964.2" r="6.1"/><circle cx="580.7" cy="965.4" r="6.1"/><circle cx="584" cy="966.4" r="6.1"/><circle cx="587.3" cy="963.1" r="6.1"/><circle cx="590.6" cy="965.1" r="6.1"/><circle cx="593.8" cy="964.7" r="6.1"/><circle cx="597.1" cy="960.9" r="6.1"/><circle cx="600.4" cy="963.8" r="6.1"/><circle cx="603.7" cy="962.9" r="6.1"/><circle cx="607" cy="964.8" r="6.1"/><circle cx="610.2" cy="962.9" r="6.1"/><circle cx="613.5" cy="963.2" r="6.1"/><circle cx="616.8" cy="963" r="6.1"/><circle cx="620.1" cy="963.3" r="6.1"/><circle cx="623.3" cy="962.8" r="6.1"/><circle cx="626.6" cy="962.7" r="6.1"/><circle cx="629.9" cy="963.4" r="6.1"/><circle cx="633.2" cy="963.1" r="6.1"/><circle cx="636.5" cy="963" r="6.1"/><circle cx="639.7" cy="962.3" r="6.1"/><circle cx="643" cy="960.3" r="6.1"/><circle cx="646.3" cy="960.7" r="6.1"/><circle cx="649.6" cy="959.2" r="6.1"/><circle cx="652.9" cy="958.8" r="6.1"/><circle cx="656.1" cy="961" r="6.1"/><circle cx="659.4" cy="961.3" r="6.1"/><circle cx="662.7" cy="955.6" r="6.1"/><circle cx="666" cy="961.3" r="6.1"/><circle cx="669.2" cy="959.1" r="6.1"/><circle cx="672.5" cy="956.9" r="6.1"/><circle cx="675.8" cy="959.1" r="6.1"/><circle cx="679.1" cy="959.3" r="6.1"/><circle cx="682.4" cy="961" r="6.1"/><circle cx="685.6" cy="959.1" r="6.1"/><circle cx="688.9" cy="960.2" r="6.1"/><circle cx="692.2" cy="960.7" r="6.1"/><circle cx="695.5" cy="959.7" r="6.1"/><circle cx="698.8" cy="958" r="6.1"/><circle cx="702" cy="959.1" r="6.1"/><circle cx="705.3" cy="960.5" r="6.1"/><circle cx="708.6" cy="957.6" r="6.1"/><circle cx="711.9" cy="957.7" r="6.1"/><circle cx="715.1" cy="958.6" r="6.1"/><circle cx="718.4" cy="956.6" r="6.1"/><circle cx="721.7" cy="958.1" r="6.1"/><circle cx="725" cy="961.2" r="6.1"/><circle cx="728.3" cy="959.6" r="6.1"/><circle cx="731.5" cy="958" r="6.1"/><circle cx="734.8" cy="958.9" r="6.1"/><circle cx="738.1" cy="958.8" r="6.1"/><circle cx="741.4" cy="957.9" r="6.1"/><circle cx="744.7" cy="957.8" r="6.1"/><circle cx="747.9" cy="958.3" r="6.1"/><circle cx="751.2" cy="956.5" r="6.1"/><circle cx="754.5" cy="960.2" r="6.1"/><circle cx="757.8" cy="954.5" r="6.1"/><circle cx="761.1" cy="953.1" r="6.1"/><circle cx="764.3" cy="958.7" r="6.1"/><circle cx="767.6" cy="952.8" r="6.1"/><circle cx="770.9" cy="955.4" r="6.1"/><circle cx="774.2" cy="954.5" r="6.1"/><circle cx="777.4" cy="953" r="6.1"/><circle cx="780.7" cy="955.7" r="6.1"/><circle cx="784" cy="953.8" r="6.1"/><circle cx="787.3" cy="956.7" r="6.1"/><circle cx="790.6" cy="952.4" r="6.1"/><circle cx="793.8" cy="953.1" r="6.1"/><circle cx="797.1" cy="955.5" r="6.1"/><circle cx="800.4" cy="954.2" r="6.1"/><circle cx="803.7" cy="949.7" r="6.1"/><circle cx="807" cy="952.3" r="6.1"/><circle cx="810.2" cy="952.6" r="6.1"/><circle cx="813.5" cy="948.9" r="6.1"/><circle cx="816.8" cy="952.3" r="6.1"/><circle cx="820.1" cy="954.8" r="6.1"/><circle cx="823.3" cy="956" r="6.1"/><circle cx="826.6" cy="951.4" r="6.1"/><circle cx="829.9" cy="952.2" r="6.1"/><circle cx="833.2" cy="950.4" r="6.1"/><circle cx="836.5" cy="952.3" r="6.1"/><circle cx="839.7" cy="951.9" r="6.1"/><circle cx="843" cy="952.3" r="6.1"/><circle cx="846.3" cy="952.2" r="6.1"/><circle cx="849.6" cy="948.9" r="6.1"/><circle cx="852.9" cy="950.5" r="6.1"/><circle cx="856.1" cy="950.8" r="6.1"/><circle cx="859.4" cy="950" r="6.1"/><circle cx="862.7" cy="946.1" r="6.1"/><circle cx="866" cy="947.8" r="6.1"/><circle cx="869.2" cy="946.4" r="6.1"/><circle cx="872.5" cy="945.9" r="6.1"/><circle cx="875.8" cy="949.1" r="6.1"/><circle cx="879.1" cy="952.4" r="6.1"/><circle cx="882.4" cy="950.3" r="6.1"/><circle cx="885.6" cy="947.9" r="6.1"/><circle cx="888.9" cy="947.2" r="6.1"/><circle cx="892.2" cy="942.9" r="6.1"/><circle cx="895.5" cy="946.1" r="6.1"/><circle cx="898.8" cy="948.7" r="6.1"/><circle cx="902" cy="947.5" r="6.1"/><circle cx="905.3" cy="947" r="6.1"/><circle cx="908.6" cy="948.2" r="6.1"/><circle cx="911.9" cy="943.4" r="6.1"/><circle cx="915.1" cy="948.4" r="6.1"/><circle cx="918.4" cy="944.2" r="6.1"/><circle cx="921.7" cy="948.4" r="6.1"/><circle cx="925" cy="943.4" r="6.1"/><circle cx="928.3" cy="940.7" r="6.1"/><circle cx="931.5" cy="941.4" r="6.1"/><circle cx="934.8" cy="943.7" r="6.1"/><circle cx="938.1" cy="941.1" r="6.1"/><circle cx="941.4" cy="937.2" r="6.1"/><circle cx="944.7" cy="936.7" r="6.1"/><circle cx="947.9" cy="943.8" r="6.1"/><circle cx="951.2" cy="941.1" r="6.1"/><circle cx="954.5" cy="941.2" r="6.1"/><circle cx="957.8" cy="939.4" r="6.1"/><circle cx="961" cy="939.6" r="6.1"/><circle cx="964.3" cy="940.3" r="6.1"/><circle cx="967.6" cy="939.4" r="6.1"/><circle cx="970.9" cy="935.4" r="6.1"/><circle cx="974.2" cy="932.6" r="6.1"/><circle cx="977.4" cy="932.9" r="6.1"/><circle cx="980.7" cy="937" r="6.1"/><circle cx="984" cy="935" r="6.1"/><circle cx="987.3" cy="939.5" r="6.1"/><circle cx="990.6" cy="940.8" r="6.1"/><circle cx="993.8" cy="934.3" r="6.1"/><circle cx="997.1" cy="930.5" r="6.1"/><circle cx="1000.4" cy="931.9" r="6.1"/><circle cx="1003.7" cy="929.5" r="6.1"/><circle cx="1006.9" cy="927" r="6.1"/><circle cx="1010.2" cy="932.9" r="6.1"/><circle cx="1013.5" cy="930.3" r="6.1"/><circle cx="1016.8" cy="931.9" r="6.1"/><circle cx="1020.1" cy="930.9" r="6.1"/><circle cx="1023.3" cy="934.4" r="6.1"/><circle cx="1026.6" cy="930.3" r="6.1"/><circle cx="1029.9" cy="927.5" r="6.1"/><circle cx="1033.2" cy="938.6" r="6.1"/><circle cx="1036.5" cy="921.5" r="6.1"/><circle cx="1039.7" cy="922.4" r="6.1"/><circle cx="1043" cy="925.2" r="6.1"/><circle cx="1046.3" cy="931.6" r="6.1"/><circle cx="1049.6" cy="925.2" r="6.1"/><circle cx="1052.9" cy="914.4" r="6.1"/><circle cx="1056.1" cy="921.4" r="6.1"/><circle cx="1059.4" cy="913.1" r="6.1"/><circle cx="1062.7" cy="920.8" r="6.1"/><circle cx="1066" cy="914.4" r="6.1"/><circle cx="1069.2" cy="925.4" r="6.1"/><circle cx="1072.5" cy="918.7" r="6.1"/><circle cx="1075.8" cy="920.9" r="6.1"/><circle cx="1079.1" cy="919.2" r="6.1"/><circle cx="1082.4" cy="910.5" r="6.1"/><circle cx="1085.6" cy="913.9" r="6.1"/><circle cx="1088.9" cy="911.1" r="6.1"/><circle cx="1092.2" cy="915.2" r="6.1"/><circle cx="1095.5" cy="915.6" r="6.1"/><circle cx="1098.8" cy="908.9" r="6.1"/><circle cx="1102" cy="917.9" r="6.1"/><circle cx="1105.3" cy="911.7" r="6.1"/><circle cx="1108.6" cy="905.7" r="6.1"/><circle cx="1111.9" cy="914" r="6.1"/><circle cx="1115.1" cy="909" r="6.1"/><circle cx="1118.4" cy="900.2" r="6.1"/><circle cx="1121.7" cy="909.1" r="6.1"/><circle cx="1125" cy="909.9" r="6.1"/><circle cx="1128.3" cy="907.9" r="6.1"/><circle cx="1131.5" cy="894" r="6.1"/><circle cx="1134.8" cy="907.6" r="6.1"/><circle cx="1138.1" cy="911.3" r="6.1"/><circle cx="1141.4" cy="904.9" r="6.1"/><circle cx="1144.7" cy="905.3" r="6.1"/><circle cx="1147.9" cy="905" r="6.1"/><circle cx="1151.2" cy="914" r="6.1"/><circle cx="1154.5" cy="915" r="6.1"/><circle cx="1157.8" cy="904.2" r="6.1"/><circle cx="1161" cy="897.4" r="6.1"/><circle cx="1164.3" cy="898.7" r="6.1"/><circle cx="1167.6" cy="908.7" r="6.1"/><circle cx="1170.9" cy="899.8" r="6.1"/><circle cx="1174.2" cy="899.1" r="6.1"/><circle cx="1177.4" cy="892.4" r="6.1"/><circle cx="1180.7" cy="903.8" r="6.1"/><circle cx="1184" cy="883.7" r="6.1"/><circle cx="1187.3" cy="887.2" r="6.1"/><circle cx="1190.6" cy="891.7" r="6.1"/><circle cx="1193.8" cy="888" r="6.1"/><circle cx="1197.1" cy="888.8" r="6.1"/><circle cx="1200.4" cy="891.9" r="6.1"/><circle cx="1203.7" cy="882.8" r="6.1"/><circle cx="1206.9" cy="884.4" r="6.1"/><circle cx="1210.2" cy="890.5" r="6.1"/><circle cx="1213.5" cy="886" r="6.1"/><circle cx="1216.8" cy="888.5" r="6.1"/><circle cx="1220.1" cy="874.7" r="6.1"/><circle cx="1223.3" cy="873.3" r="6.1"/><circle cx="1226.6" cy="869.5" r="6.1"/><circle cx="1229.9" cy="884.4" r="6.1"/><circle cx="1233.2" cy="885.2" r="6.1"/><circle cx="1236.5" cy="882.8" r="6.1"/><circle cx="1239.7" cy="875.1" r="6.1"/><circle cx="1243" cy="880.9" r="6.1"/><circle cx="1246.3" cy="877.4" r="6.1"/><circle cx="1249.6" cy="874" r="6.1"/><circle cx="1252.8" cy="872.3" r="6.1"/><circle cx="1256.1" cy="872.1" r="6.1"/><circle cx="1259.4" cy="865.7" r="6.1"/><circle cx="1262.7" cy="885.6" r="6.1"/><circle cx="1266" cy="876.9" r="6.1"/><circle cx="1269.2" cy="865.4" r="6.1"/><circle cx="1272.5" cy="873.8" r="6.1"/><circle cx="1275.8" cy="859.6" r="6.1"/><circle cx="1279.1" cy="864.3" r="6.1"/><circle cx="1282.4" cy="862.7" r="6.1"/><circle cx="1285.6" cy="844" r="6.1"/><circle cx="1288.9" cy="859.9" r="6.1"/><circle cx="1292.2" cy="863.1" r="6.1"/><circle cx="1295.5" cy="857" r="6.1"/><circle cx="1298.8" cy="860.9" r="6.1"/><circle cx="1302" cy="857" r="6.1"/><circle cx="1305.3" cy="861.7" r="6.1"/><circle cx="1308.6" cy="849.2" r="6.1"/><circle cx="1311.9" cy="860.2" r="6.1"/><circle cx="1315.1" cy="873.5" r="6.1"/><circle cx="1318.4" cy="862.1" r="6.1"/><circle cx="1321.7" cy="859.9" r="6.1"/><circle cx="1325" cy="856.7" r="6.1"/><circle cx="1328.3" cy="857.4" r="6.1"/><circle cx="1331.5" cy="846.2" r="6.1"/><circle cx="1334.8" cy="838.8" r="6.1"/><circle cx="1338.1" cy="828.8" r="6.1"/><circle cx="1341.4" cy="836.1" r="6.1"/><circle cx="1344.7" cy="840.3" r="6.1"/><circle cx="1347.9" cy="849.8" r="6.1"/><circle cx="1351.2" cy="817.5" r="6.1"/><circle cx="1354.5" cy="836.4" r="6.1"/><circle cx="1357.8" cy="834.8" r="6.1"/><circle cx="1361" cy="822.3" r="6.1"/><circle cx="1364.3" cy="819.5" r="6.1"/><circle cx="1367.6" cy="815.3" r="6.1"/><circle cx="1370.9" cy="800.8" r="6.1"/><circle cx="1374.2" cy="809" r="6.1"/><circle cx="1377.4" cy="810.2" r="6.1"/><circle cx="1380.7" cy="781.4" r="6.1"/><circle cx="1384" cy="790.4" r="6.1"/><circle cx="1387.3" cy="801" r="6.1"/><circle cx="1390.6" cy="764.5" r="6.1"/><circle cx="1393.8" cy="787.1" r="6.1"/><circle cx="1397.1" cy="754.5" r="6.1"/><circle cx="1400.4" cy="748.7" r="6.1"/><circle cx="1403.7" cy="769.1" r="6.1"/><circle cx="1406.9" cy="761.8" r="6.1"/><circle cx="1410.2" cy="763.5" r="6.1"/><circle cx="1413.5" cy="785" r="6.1"/><circle cx="1416.8" cy="749.3" r="6.1"/><circle cx="1420.1" cy="747.2" r="6.1"/><circle cx="1423.3" cy="758.5" r="6.1"/><circle cx="1426.6" cy="692.4" r="6.1"/><circle cx="1429.9" cy="728.1" r="6.1"/><circle cx="1433.2" cy="694.9" r="6.1"/><circle cx="1436.5" cy="706.2" r="6.1"/><circle cx="1439.7" cy="697.4" r="6.1"/><circle cx="1443" cy="716.5" r="6.1"/><circle cx="1446.3" cy="699.6" r="6.1"/><circle cx="1449.6" cy="690.3" r="6.1"/><circle cx="1452.8" cy="687" r="6.1"/><circle cx="1456.1" cy="645.8" r="6.1"/><circle cx="1459.4" cy="650.8" r="6.1"/><circle cx="1462.7" cy="644.3" r="6.1"/><circle cx="1466" cy="626.3" r="6.1"/><circle cx="1469.2" cy="632.3" r="6.1"/><circle cx="1472.5" cy="648.4" r="6.1"/><circle cx="1475.8" cy="644.7" r="6.1"/><circle cx="1479.1" cy="637.6" r="6.1"/><circle cx="1482.4" cy="576.2" r="6.1"/><circle cx="1485.6" cy="621.1" r="6.1"/><circle cx="1488.9" cy="637.9" r="6.1"/><circle cx="1492.2" cy="651.8" r="6.1"/><circle cx="1495.5" cy="636.6" r="6.1"/><circle cx="1498.7" cy="632.9" r="6.1"/><circle cx="1502" cy="651.4" r="6.1"/><circle cx="1505.3" cy="644.2" r="6.1"/><circle cx="1508.6" cy="584.5" r="6.1"/><circle cx="1511.9" cy="607.2" r="6.1"/><circle cx="1515.1" cy="699.7" r="6.1"/><circle cx="1518.4" cy="596.1" r="6.1"/><circle cx="1521.7" cy="671.8" r="6.1"/><circle cx="1525" cy="618.3" r="6.1"/><circle cx="1528.3" cy="632.8" r="6.1"/><circle cx="1531.5" cy="635.8" r="6.1"/><circle cx="1534.8" cy="643.6" r="6.1"/><circle cx="1538.1" cy="645.5" r="6.1"/><circle cx="1541.4" cy="639.1" r="6.1"/><circle cx="1544.6" cy="635" r="6.1"/><circle cx="1547.9" cy="643.4" r="6.1"/><circle cx="1551.2" cy="605.7" r="6.1"/><circle cx="1554.5" cy="617.3" r="6.1"/><circle cx="1557.8" cy="588.4" r="6.1"/><circle cx="1561" cy="584.3" r="6.1"/><circle cx="1564.3" cy="595.9" r="6.1"/><circle cx="1567.6" cy="588.3" r="6.1"/><circle cx="1570.9" cy="580.8" r="6.1"/><circle cx="1574.2" cy="617.2" r="6.1"/><circle cx="1577.4" cy="553.5" r="6.1"/><circle cx="1580.7" cy="586.7" r="6.1"/><circle cx="1584" cy="555.6" r="6.1"/><circle cx="1587.3" cy="535.4" r="6.1"/><circle cx="1590.6" cy="549.3" r="6.1"/><circle cx="1593.8" cy="536.6" r="6.1"/><circle cx="1597.1" cy="537.2" r="6.1"/><circle cx="1600.4" cy="539.9" r="6.1"/><circle cx="1603.7" cy="536.5" r="6.1"/><circle cx="1606.9" cy="528.8" r="6.1"/><circle cx="1610.2" cy="516" r="6.1"/><circle cx="1613.5" cy="513.5" r="6.1"/><circle cx="1616.8" cy="433.9" r="6.1"/><circle cx="1620.1" cy="479" r="6.1"/><circle cx="1623.3" cy="524.2" r="6.1"/><circle cx="1626.6" cy="406.9" r="6.1"/><circle cx="1629.9" cy="468.3" r="6.1"/><circle cx="1633.2" cy="430.4" r="6.1"/><circle cx="1636.5" cy="379.9" r="6.1"/><circle cx="1639.7" cy="430.7" r="6.1"/><circle cx="1643" cy="386.3" r="6.1"/><circle cx="1646.3" cy="401.5" r="6.1"/><circle cx="1649.6" cy="398.8" r="6.1"/><circle cx="1652.8" cy="341" r="6.1"/><circle cx="1656.1" cy="467.2" r="6.1"/><circle cx="1659.4" cy="267.7" r="6.1"/><circle cx="1662.7" cy="319.6" r="6.1"/><circle cx="1666" cy="280.2" r="6.1"/><circle cx="1669.2" cy="310.6" r="6.1"/><circle cx="1672.5" cy="312.2" r="6.1"/><circle cx="1675.8" cy="305.5" r="6.1"/><circle cx="1679.1" cy="196.9" r="6.1"/><circle cx="1682.4" cy="313.5" r="6.1"/><circle cx="1685.6" cy="306.6" r="6.1"/><circle cx="1688.9" cy="379.2" r="6.1"/><circle cx="1692.2" cy="326.4" r="6.1"/><circle cx="1695.5" cy="336.5" r="6.1"/><circle cx="1698.7" cy="421.2" r="6.1"/><circle cx="1702" cy="477.8" r="6.1"/><circle cx="1705.3" cy="378" r="6.1"/><circle cx="1708.6" cy="375" r="6.1"/><circle cx="1711.9" cy="410.7" r="6.1"/><circle cx="1715.1" cy="360.5" r="6.1"/><circle cx="1718.4" cy="332.3" r="6.1"/><circle cx="1721.7" cy="325.4" r="6.1"/><circle cx="1725" cy="366.1" r="6.1"/><circle cx="1728.3" cy="279.6" r="6.1"/><circle cx="1731.5" cy="181.5" r="6.1"/><circle cx="1734.8" cy="425.5" r="6.1"/><circle cx="1738.1" cy="210.6" r="6.1"/><circle cx="1741.4" cy="289.9" r="6.1"/><circle cx="1744.6" cy="118.6" r="6.1"/><circle cx="1747.9" cy="308.6" r="6.1"/><circle cx="1751.2" cy="282.2" r="6.1"/><circle cx="1754.5" cy="301.9" r="6.1"/><circle cx="1757.8" cy="290.3" r="6.1"/><circle cx="1761" cy="151.5" r="6.1"/><circle cx="1764.3" cy="285" r="6.1"/><circle cx="1767.6" cy="150.4" r="6.1"/></g>
<g fill="#5b9bd0" fill-opacity="0.15"><circle cx="223.3" cy="968.8" r="6.1"/><circle cx="226.6" cy="968.5" r="6.1"/><circle cx="229.9" cy="975.5" r="6.1"/><circle cx="233.2" cy="968.4" r="6.1"/><circle cx="236.5" cy="969.6" r="6.1"/><circle cx="239.7" cy="969.8" r="6.1"/><circle cx="243" cy="966.3" r="6.1"/><circle cx="246.3" cy="973.7" r="6.1"/><circle cx="249.6" cy="970.7" r="6.1"/><circle cx="252.9" cy="975.5" r="6.1"/><circle cx="256.1" cy="971.4" r="6.1"/><circle cx="259.4" cy="969.1" r="6.1"/><circle cx="262.7" cy="968.2" r="6.1"/><circle cx="266" cy="968.9" r="6.1"/><circle cx="269.3" cy="975.5" r="6.1"/><circle cx="272.5" cy="971.4" r="6.1"/><circle cx="275.8" cy="971.6" r="6.1"/><circle cx="279.1" cy="970.3" r="6.1"/><circle cx="282.4" cy="971.5" r="6.1"/><circle cx="285.6" cy="971.8" r="6.1"/><circle cx="288.9" cy="970.3" r="6.1"/><circle cx="292.2" cy="973.6" r="6.1"/><circle cx="295.5" cy="975.5" r="6.1"/><circle cx="298.8" cy="968.6" r="6.1"/><circle cx="302" cy="973.1" r="6.1"/><circle cx="305.3" cy="972.4" r="6.1"/><circle cx="308.6" cy="970.8" r="6.1"/><circle cx="311.9" cy="972.9" r="6.1"/><circle cx="315.2" cy="968.5" r="6.1"/><circle cx="318.4" cy="971.9" r="6.1"/><circle cx="321.7" cy="971.5" r="6.1"/><circle cx="325" cy="966.5" r="6.1"/><circle cx="328.3" cy="967.9" r="6.1"/><circle cx="331.5" cy="975.5" r="6.1"/><circle cx="334.8" cy="973.9" r="6.1"/><circle cx="338.1" cy="971" r="6.1"/><circle cx="341.4" cy="973.5" r="6.1"/><circle cx="344.7" cy="964.5" r="6.1"/><circle cx="347.9" cy="968.8" r="6.1"/><circle cx="351.2" cy="967.7" r="6.1"/><circle cx="354.5" cy="967.6" r="6.1"/><circle cx="357.8" cy="964.6" r="6.1"/><circle cx="361.1" cy="966.3" r="6.1"/><circle cx="364.3" cy="971.2" r="6.1"/><circle cx="367.6" cy="967.9" r="6.1"/><circle cx="370.9" cy="965.1" r="6.1"/><circle cx="374.2" cy="965.7" r="6.1"/><circle cx="377.4" cy="965.2" r="6.1"/><circle cx="380.7" cy="963.1" r="6.1"/><circle cx="384" cy="967.1" r="6.1"/><circle cx="387.3" cy="964.6" r="6.1"/><circle cx="390.6" cy="960.6" r="6.1"/><circle cx="393.8" cy="965.7" r="6.1"/><circle cx="397.1" cy="959.3" r="6.1"/><circle cx="400.4" cy="964.3" r="6.1"/><circle cx="403.7" cy="959" r="6.1"/><circle cx="407" cy="963.3" r="6.1"/><circle cx="410.2" cy="962.5" r="6.1"/><circle cx="413.5" cy="961.6" r="6.1"/><circle cx="416.8" cy="962.4" r="6.1"/><circle cx="420.1" cy="969.4" r="6.1"/><circle cx="423.3" cy="958.2" r="6.1"/><circle cx="426.6" cy="959.8" r="6.1"/><circle cx="429.9" cy="959.4" r="6.1"/><circle cx="433.2" cy="963.6" r="6.1"/><circle cx="436.5" cy="953.7" r="6.1"/><circle cx="439.7" cy="968.9" r="6.1"/><circle cx="443" cy="959.2" r="6.1"/><circle cx="446.3" cy="960.4" r="6.1"/><circle cx="449.6" cy="959.9" r="6.1"/><circle cx="452.9" cy="962.8" r="6.1"/><circle cx="456.1" cy="952.7" r="6.1"/><circle cx="459.4" cy="958.1" r="6.1"/><circle cx="462.7" cy="957.6" r="6.1"/><circle cx="466" cy="956.8" r="6.1"/><circle cx="469.2" cy="958.5" r="6.1"/><circle cx="472.5" cy="954.2" r="6.1"/><circle cx="475.8" cy="957" r="6.1"/><circle cx="479.1" cy="957.7" r="6.1"/><circle cx="482.4" cy="959.6" r="6.1"/><circle cx="485.6" cy="959.7" r="6.1"/><circle cx="488.9" cy="959.8" r="6.1"/><circle cx="492.2" cy="954.8" r="6.1"/><circle cx="495.5" cy="952.6" r="6.1"/><circle cx="498.8" cy="952.8" r="6.1"/><circle cx="502" cy="957.8" r="6.1"/><circle cx="505.3" cy="955.6" r="6.1"/><circle cx="508.6" cy="955" r="6.1"/><circle cx="511.9" cy="954.2" r="6.1"/><circle cx="515.2" cy="959.2" r="6.1"/><circle cx="518.4" cy="963.7" r="6.1"/><circle cx="521.7" cy="961" r="6.1"/><circle cx="525" cy="962.8" r="6.1"/><circle cx="528.3" cy="953.3" r="6.1"/><circle cx="531.5" cy="954" r="6.1"/><circle cx="534.8" cy="952.6" r="6.1"/><circle cx="538.1" cy="948.2" r="6.1"/><circle cx="541.4" cy="952.3" r="6.1"/><circle cx="544.7" cy="955.9" r="6.1"/><circle cx="547.9" cy="954" r="6.1"/><circle cx="551.2" cy="954.1" r="6.1"/><circle cx="554.5" cy="949.6" r="6.1"/><circle cx="557.8" cy="950.5" r="6.1"/><circle cx="561.1" cy="944.9" r="6.1"/><circle cx="564.3" cy="947.3" r="6.1"/><circle cx="567.6" cy="944.4" r="6.1"/><circle cx="570.9" cy="949" r="6.1"/><circle cx="574.2" cy="950.5" r="6.1"/><circle cx="577.4" cy="949.8" r="6.1"/><circle cx="580.7" cy="950.7" r="6.1"/><circle cx="584" cy="946.7" r="6.1"/><circle cx="587.3" cy="948.1" r="6.1"/><circle cx="590.6" cy="948.6" r="6.1"/><circle cx="593.8" cy="947.6" r="6.1"/><circle cx="597.1" cy="949.4" r="6.1"/><circle cx="600.4" cy="941.4" r="6.1"/><circle cx="603.7" cy="951.1" r="6.1"/><circle cx="607" cy="944" r="6.1"/><circle cx="610.2" cy="939.3" r="6.1"/><circle cx="613.5" cy="940.4" r="6.1"/><circle cx="616.8" cy="939.9" r="6.1"/><circle cx="620.1" cy="941.7" r="6.1"/><circle cx="623.3" cy="940.9" r="6.1"/><circle cx="626.6" cy="944.5" r="6.1"/><circle cx="629.9" cy="941" r="6.1"/><circle cx="633.2" cy="943.3" r="6.1"/><circle cx="636.5" cy="943.7" r="6.1"/><circle cx="639.7" cy="934.2" r="6.1"/><circle cx="643" cy="941.2" r="6.1"/><circle cx="646.3" cy="942.9" r="6.1"/><circle cx="649.6" cy="933.6" r="6.1"/><circle cx="652.9" cy="933.5" r="6.1"/><circle cx="656.1" cy="936.4" r="6.1"/><circle cx="659.4" cy="935" r="6.1"/><circle cx="662.7" cy="932" r="6.1"/><circle cx="666" cy="937.5" r="6.1"/><circle cx="669.2" cy="931.7" r="6.1"/><circle cx="672.5" cy="926.4" r="6.1"/><circle cx="675.8" cy="927.1" r="6.1"/><circle cx="679.1" cy="927.6" r="6.1"/><circle cx="682.4" cy="929.7" r="6.1"/><circle cx="685.6" cy="925.4" r="6.1"/><circle cx="688.9" cy="918.8" r="6.1"/><circle cx="692.2" cy="926.9" r="6.1"/><circle cx="695.5" cy="917.3" r="6.1"/><circle cx="698.8" cy="919.5" r="6.1"/><circle cx="702" cy="925.7" r="6.1"/><circle cx="705.3" cy="915.6" r="6.1"/><circle cx="708.6" cy="913.6" r="6.1"/><circle cx="711.9" cy="936" r="6.1"/><circle cx="715.1" cy="911.2" r="6.1"/><circle cx="718.4" cy="913.2" r="6.1"/><circle cx="721.7" cy="911.8" r="6.1"/><circle cx="725" cy="911" r="6.1"/><circle cx="728.3" cy="907.4" r="6.1"/><circle cx="731.5" cy="910.3" r="6.1"/><circle cx="734.8" cy="904.9" r="6.1"/><circle cx="738.1" cy="915.7" r="6.1"/><circle cx="741.4" cy="902.4" r="6.1"/><circle cx="744.7" cy="902.8" r="6.1"/><circle cx="747.9" cy="901.6" r="6.1"/><circle cx="751.2" cy="895.9" r="6.1"/><circle cx="754.5" cy="901.6" r="6.1"/><circle cx="757.8" cy="903.5" r="6.1"/><circle cx="761.1" cy="896.6" r="6.1"/><circle cx="764.3" cy="889.5" r="6.1"/><circle cx="767.6" cy="900.8" r="6.1"/><circle cx="770.9" cy="902.2" r="6.1"/><circle cx="774.2" cy="896.1" r="6.1"/><circle cx="777.4" cy="903.8" r="6.1"/><circle cx="780.7" cy="900.1" r="6.1"/><circle cx="784" cy="908.3" r="6.1"/><circle cx="787.3" cy="897.1" r="6.1"/><circle cx="790.6" cy="889.2" r="6.1"/><circle cx="793.8" cy="893.2" r="6.1"/><circle cx="797.1" cy="900.6" r="6.1"/><circle cx="800.4" cy="896.9" r="6.1"/><circle cx="803.7" cy="893.1" r="6.1"/><circle cx="807" cy="904.3" r="6.1"/><circle cx="810.2" cy="895.1" r="6.1"/><circle cx="813.5" cy="894.1" r="6.1"/><circle cx="816.8" cy="903.4" r="6.1"/><circle cx="820.1" cy="902.4" r="6.1"/><circle cx="823.3" cy="893.8" r="6.1"/><circle cx="826.6" cy="891.1" r="6.1"/><circle cx="829.9" cy="888.8" r="6.1"/><circle cx="833.2" cy="893.7" r="6.1"/><circle cx="836.5" cy="883.4" r="6.1"/><circle cx="839.7" cy="898.5" r="6.1"/><circle cx="843" cy="892.3" r="6.1"/><circle cx="846.3" cy="888.6" r="6.1"/><circle cx="849.6" cy="886.3" r="6.1"/><circle cx="852.9" cy="886.9" r="6.1"/><circle cx="856.1" cy="881.2" r="6.1"/><circle cx="859.4" cy="881.9" r="6.1"/><circle cx="862.7" cy="892.5" r="6.1"/><circle cx="866" cy="881.3" r="6.1"/><circle cx="869.2" cy="889.2" r="6.1"/><circle cx="872.5" cy="889.3" r="6.1"/><circle cx="875.8" cy="882.1" r="6.1"/><circle cx="879.1" cy="879.7" r="6.1"/><circle cx="882.4" cy="872.9" r="6.1"/><circle cx="885.6" cy="882.7" r="6.1"/><circle cx="888.9" cy="880.5" r="6.1"/><circle cx="892.2" cy="871.2" r="6.1"/><circle cx="895.5" cy="882.4" r="6.1"/><circle cx="898.8" cy="872.1" r="6.1"/><circle cx="902" cy="878.9" r="6.1"/><circle cx="905.3" cy="872.2" r="6.1"/><circle cx="908.6" cy="871.9" r="6.1"/><circle cx="911.9" cy="849" r="6.1"/><circle cx="915.1" cy="871.4" r="6.1"/><circle cx="918.4" cy="870.4" r="6.1"/><circle cx="921.7" cy="857.7" r="6.1"/><circle cx="925" cy="871" r="6.1"/><circle cx="928.3" cy="861.3" r="6.1"/><circle cx="931.5" cy="863.2" r="6.1"/><circle cx="934.8" cy="872.5" r="6.1"/><circle cx="938.1" cy="873.8" r="6.1"/><circle cx="941.4" cy="861.4" r="6.1"/><circle cx="944.7" cy="866.1" r="6.1"/><circle cx="947.9" cy="866.1" r="6.1"/><circle cx="951.2" cy="868.2" r="6.1"/><circle cx="954.5" cy="869.8" r="6.1"/><circle cx="957.8" cy="874.1" r="6.1"/><circle cx="961" cy="869.3" r="6.1"/><circle cx="964.3" cy="865" r="6.1"/><circle cx="967.6" cy="863.1" r="6.1"/><circle cx="970.9" cy="856" r="6.1"/><circle cx="974.2" cy="858.3" r="6.1"/><circle cx="977.4" cy="861.9" r="6.1"/><circle cx="980.7" cy="851.6" r="6.1"/><circle cx="984" cy="864.2" r="6.1"/><circle cx="987.3" cy="866.3" r="6.1"/><circle cx="990.6" cy="865.8" r="6.1"/><circle cx="993.8" cy="854.8" r="6.1"/><circle cx="997.1" cy="847.4" r="6.1"/><circle cx="1000.4" cy="860" r="6.1"/><circle cx="1003.7" cy="865.6" r="6.1"/><circle cx="1006.9" cy="853.5" r="6.1"/><circle cx="1010.2" cy="852.7" r="6.1"/><circle cx="1013.5" cy="848.8" r="6.1"/><circle cx="1016.8" cy="845" r="6.1"/><circle cx="1020.1" cy="848.8" r="6.1"/><circle cx="1023.3" cy="824.6" r="6.1"/><circle cx="1026.6" cy="845.2" r="6.1"/><circle cx="1029.9" cy="841.9" r="6.1"/><circle cx="1033.2" cy="847.1" r="6.1"/><circle cx="1036.5" cy="810" r="6.1"/><circle cx="1039.7" cy="851.7" r="6.1"/><circle cx="1043" cy="836.2" r="6.1"/><circle cx="1046.3" cy="830.8" r="6.1"/><circle cx="1049.6" cy="842.1" r="6.1"/><circle cx="1052.9" cy="840.1" r="6.1"/><circle cx="1056.1" cy="834.5" r="6.1"/><circle cx="1059.4" cy="824.3" r="6.1"/><circle cx="1062.7" cy="824.7" r="6.1"/><circle cx="1066" cy="819.3" r="6.1"/><circle cx="1069.2" cy="815.5" r="6.1"/><circle cx="1072.5" cy="815.8" r="6.1"/><circle cx="1075.8" cy="822.3" r="6.1"/><circle cx="1079.1" cy="806.5" r="6.1"/><circle cx="1082.4" cy="813.6" r="6.1"/><circle cx="1085.6" cy="813.2" r="6.1"/><circle cx="1088.9" cy="814.1" r="6.1"/><circle cx="1092.2" cy="785.8" r="6.1"/><circle cx="1095.5" cy="798.7" r="6.1"/><circle cx="1098.8" cy="786.1" r="6.1"/><circle cx="1102" cy="780" r="6.1"/><circle cx="1105.3" cy="789.1" r="6.1"/><circle cx="1108.6" cy="775.6" r="6.1"/><circle cx="1111.9" cy="792.5" r="6.1"/><circle cx="1115.1" cy="771.5" r="6.1"/><circle cx="1118.4" cy="773.5" r="6.1"/><circle cx="1121.7" cy="786.3" r="6.1"/><circle cx="1125" cy="774.7" r="6.1"/><circle cx="1128.3" cy="770.8" r="6.1"/><circle cx="1131.5" cy="790.4" r="6.1"/><circle cx="1134.8" cy="774.8" r="6.1"/><circle cx="1138.1" cy="776.4" r="6.1"/><circle cx="1141.4" cy="773.4" r="6.1"/><circle cx="1144.7" cy="785.2" r="6.1"/><circle cx="1147.9" cy="771.3" r="6.1"/><circle cx="1151.2" cy="775.2" r="6.1"/><circle cx="1154.5" cy="769.9" r="6.1"/><circle cx="1157.8" cy="761.9" r="6.1"/><circle cx="1161" cy="760.4" r="6.1"/><circle cx="1164.3" cy="765.4" r="6.1"/><circle cx="1167.6" cy="754.5" r="6.1"/><circle cx="1170.9" cy="764.6" r="6.1"/><circle cx="1174.2" cy="757.8" r="6.1"/><circle cx="1177.4" cy="739.7" r="6.1"/><circle cx="1180.7" cy="746.5" r="6.1"/><circle cx="1184" cy="737.6" r="6.1"/><circle cx="1187.3" cy="736.5" r="6.1"/><circle cx="1190.6" cy="737.3" r="6.1"/><circle cx="1193.8" cy="734.8" r="6.1"/><circle cx="1197.1" cy="720.5" r="6.1"/><circle cx="1200.4" cy="764.2" r="6.1"/><circle cx="1203.7" cy="721" r="6.1"/><circle cx="1206.9" cy="731.6" r="6.1"/><circle cx="1210.2" cy="719.7" r="6.1"/><circle cx="1213.5" cy="721.5" r="6.1"/><circle cx="1216.8" cy="710.7" r="6.1"/><circle cx="1220.1" cy="704.6" r="6.1"/><circle cx="1223.3" cy="737.5" r="6.1"/><circle cx="1226.6" cy="714.4" r="6.1"/><circle cx="1229.9" cy="702.2" r="6.1"/><circle cx="1233.2" cy="701.4" r="6.1"/><circle cx="1236.5" cy="710.2" r="6.1"/><circle cx="1239.7" cy="699.5" r="6.1"/><circle cx="1243" cy="699.8" r="6.1"/><circle cx="1246.3" cy="706.5" r="6.1"/><circle cx="1249.6" cy="697.4" r="6.1"/><circle cx="1252.8" cy="696.2" r="6.1"/><circle cx="1256.1" cy="696.4" r="6.1"/><circle cx="1259.4" cy="693.6" r="6.1"/><circle cx="1262.7" cy="691" r="6.1"/><circle cx="1266" cy="683.4" r="6.1"/><circle cx="1269.2" cy="680.4" r="6.1"/><circle cx="1272.5" cy="684.5" r="6.1"/><circle cx="1275.8" cy="694.7" r="6.1"/><circle cx="1279.1" cy="685.6" r="6.1"/><circle cx="1282.4" cy="684" r="6.1"/><circle cx="1285.6" cy="685.6" r="6.1"/><circle cx="1288.9" cy="689.6" r="6.1"/><circle cx="1292.2" cy="665.9" r="6.1"/><circle cx="1295.5" cy="646.8" r="6.1"/><circle cx="1298.8" cy="666.7" r="6.1"/><circle cx="1302" cy="666.6" r="6.1"/><circle cx="1305.3" cy="662.6" r="6.1"/><circle cx="1308.6" cy="660.5" r="6.1"/><circle cx="1311.9" cy="646.4" r="6.1"/><circle cx="1315.1" cy="665.1" r="6.1"/><circle cx="1318.4" cy="671.4" r="6.1"/><circle cx="1321.7" cy="677.7" r="6.1"/><circle cx="1325" cy="669.5" r="6.1"/><circle cx="1328.3" cy="650.3" r="6.1"/><circle cx="1331.5" cy="657.3" r="6.1"/><circle cx="1334.8" cy="646.9" r="6.1"/><circle cx="1338.1" cy="644.1" r="6.1"/><circle cx="1341.4" cy="624.4" r="6.1"/><circle cx="1344.7" cy="635.8" r="6.1"/><circle cx="1347.9" cy="645.9" r="6.1"/><circle cx="1351.2" cy="612.7" r="6.1"/><circle cx="1354.5" cy="621" r="6.1"/><circle cx="1357.8" cy="621.7" r="6.1"/><circle cx="1361" cy="583" r="6.1"/><circle cx="1364.3" cy="618.2" r="6.1"/><circle cx="1367.6" cy="595.3" r="6.1"/><circle cx="1370.9" cy="593.6" r="6.1"/><circle cx="1374.2" cy="578.5" r="6.1"/><circle cx="1377.4" cy="585.3" r="6.1"/><circle cx="1380.7" cy="590.1" r="6.1"/><circle cx="1384" cy="583.9" r="6.1"/><circle cx="1387.3" cy="576.6" r="6.1"/><circle cx="1390.6" cy="587.6" r="6.1"/><circle cx="1393.8" cy="570.8" r="6.1"/><circle cx="1397.1" cy="562.7" r="6.1"/><circle cx="1400.4" cy="523.5" r="6.1"/><circle cx="1403.7" cy="558.8" r="6.1"/><circle cx="1406.9" cy="558" r="6.1"/><circle cx="1410.2" cy="543.9" r="6.1"/><circle cx="1413.5" cy="547.8" r="6.1"/><circle cx="1416.8" cy="564.1" r="6.1"/><circle cx="1420.1" cy="527.4" r="6.1"/><circle cx="1423.3" cy="523" r="6.1"/><circle cx="1426.6" cy="517.8" r="6.1"/><circle cx="1429.9" cy="531.7" r="6.1"/><circle cx="1433.2" cy="486.2" r="6.1"/><circle cx="1436.5" cy="498.3" r="6.1"/><circle cx="1439.7" cy="507.5" r="6.1"/><circle cx="1443" cy="467.2" r="6.1"/><circle cx="1446.3" cy="506" r="6.1"/><circle cx="1449.6" cy="438.4" r="6.1"/><circle cx="1452.8" cy="482.5" r="6.1"/><circle cx="1456.1" cy="435.6" r="6.1"/><circle cx="1459.4" cy="420.8" r="6.1"/><circle cx="1462.7" cy="440.8" r="6.1"/><circle cx="1466" cy="482.9" r="6.1"/><circle cx="1469.2" cy="451.2" r="6.1"/><circle cx="1472.5" cy="433" r="6.1"/><circle cx="1475.8" cy="415" r="6.1"/><circle cx="1479.1" cy="400.9" r="6.1"/><circle cx="1482.4" cy="442.3" r="6.1"/><circle cx="1485.6" cy="388.9" r="6.1"/><circle cx="1488.9" cy="427" r="6.1"/><circle cx="1492.2" cy="436.3" r="6.1"/><circle cx="1495.5" cy="428.8" r="6.1"/><circle cx="1498.7" cy="437" r="6.1"/><circle cx="1502" cy="397.3" r="6.1"/><circle cx="1505.3" cy="431" r="6.1"/><circle cx="1508.6" cy="361.8" r="6.1"/><circle cx="1511.9" cy="436.7" r="6.1"/><circle cx="1515.1" cy="407" r="6.1"/><circle cx="1518.4" cy="422.8" r="6.1"/><circle cx="1521.7" cy="414.6" r="6.1"/><circle cx="1525" cy="358" r="6.1"/><circle cx="1528.3" cy="406.8" r="6.1"/><circle cx="1531.5" cy="417.2" r="6.1"/><circle cx="1534.8" cy="391.9" r="6.1"/><circle cx="1538.1" cy="426.1" r="6.1"/><circle cx="1541.4" cy="402" r="6.1"/><circle cx="1544.6" cy="401.8" r="6.1"/><circle cx="1547.9" cy="413.4" r="6.1"/><circle cx="1551.2" cy="374.2" r="6.1"/><circle cx="1554.5" cy="379.4" r="6.1"/><circle cx="1557.8" cy="365.1" r="6.1"/><circle cx="1561" cy="362.7" r="6.1"/><circle cx="1564.3" cy="396.4" r="6.1"/><circle cx="1567.6" cy="404.1" r="6.1"/><circle cx="1570.9" cy="318.1" r="6.1"/><circle cx="1574.2" cy="342.5" r="6.1"/><circle cx="1577.4" cy="360.5" r="6.1"/><circle cx="1580.7" cy="377.2" r="6.1"/><circle cx="1584" cy="357.5" r="6.1"/><circle cx="1587.3" cy="355.7" r="6.1"/><circle cx="1590.6" cy="300.2" r="6.1"/><circle cx="1593.8" cy="302.8" r="6.1"/><circle cx="1597.1" cy="319.3" r="6.1"/><circle cx="1600.4" cy="311.2" r="6.1"/><circle cx="1603.7" cy="336.9" r="6.1"/><circle cx="1606.9" cy="325.4" r="6.1"/><circle cx="1610.2" cy="272.6" r="6.1"/><circle cx="1613.5" cy="421.1" r="6.1"/><circle cx="1616.8" cy="249.9" r="6.1"/><circle cx="1620.1" cy="217.2" r="6.1"/><circle cx="1623.3" cy="203.3" r="6.1"/><circle cx="1626.6" cy="202.5" r="6.1"/><circle cx="1629.9" cy="312" r="6.1"/><circle cx="1633.2" cy="225.7" r="6.1"/><circle cx="1636.5" cy="296.5" r="6.1"/><circle cx="1639.7" cy="169.3" r="6.1"/><circle cx="1643" cy="241.5" r="6.1"/><circle cx="1646.3" cy="206.5" r="6.1"/><circle cx="1649.6" cy="255.2" r="6.1"/><circle cx="1652.8" cy="246.6" r="6.1"/><circle cx="1656.1" cy="254.7" r="6.1"/><circle cx="1659.4" cy="216" r="6.1"/><circle cx="1662.7" cy="247.7" r="6.1"/><circle cx="1666" cy="183.7" r="6.1"/><circle cx="1669.2" cy="174.3" r="6.1"/><circle cx="1672.5" cy="196.7" r="6.1"/><circle cx="1675.8" cy="159.4" r="6.1"/><circle cx="1679.1" cy="264" r="6.1"/><circle cx="1682.4" cy="184.4" r="6.1"/><circle cx="1685.6" cy="199.2" r="6.1"/><circle cx="1688.9" cy="236.8" r="6.1"/><circle cx="1692.2" cy="167.1" r="6.1"/><circle cx="1695.5" cy="269.1" r="6.1"/><circle cx="1698.7" cy="201.9" r="6.1"/><circle cx="1702" cy="154.2" r="6.1"/><circle cx="1705.3" cy="268.9" r="6.1"/><circle cx="1708.6" cy="272.5" r="6.1"/><circle cx="1711.9" cy="239.4" r="6.1"/><circle cx="1715.1" cy="209.3" r="6.1"/><circle cx="1718.4" cy="237.5" r="6.1"/><circle cx="1721.7" cy="228.6" r="6.1"/><circle cx="1725" cy="228.1" r="6.1"/><circle cx="1728.3" cy="210.3" r="6.1"/><circle cx="1731.5" cy="217.4" r="6.1"/><circle cx="1734.8" cy="182.6" r="6.1"/><circle cx="1738.1" cy="201.1" r="6.1"/><circle cx="1741.4" cy="165.1" r="6.1"/><circle cx="1744.6" cy="253.8" r="6.1"/><circle cx="1747.9" cy="257.3" r="6.1"/><circle cx="1751.2" cy="188.9" r="6.1"/><circle cx="1754.5" cy="220.3" r="6.1"/><circle cx="1757.8" cy="152.4" r="6.1"/><circle cx="1761" cy="180.8" r="6.1"/><circle cx="1764.3" cy="211.8" r="6.1"/><circle cx="1767.6" cy="289.7" r="6.1"/></g>
<g fill="#5b9bd0" fill-opacity="0.16"><circle cx="1640" cy="122" r="6.1"/><circle cx="1682" cy="135" r="6.1"/><circle cx="1692" cy="131" r="6.1"/><circle cx="1625" cy="170" r="6.1"/><circle cx="1665" cy="160" r="6.1"/><circle cx="1672" cy="150" r="6.1"/><circle cx="1735" cy="141" r="6.1"/><circle cx="1753" cy="154" r="6.1"/><circle cx="1759" cy="166" r="6.1"/><circle cx="1577" cy="226" r="6.1"/><circle cx="1597" cy="225" r="6.1"/><circle cx="1611" cy="221" r="6.1"/><circle cx="1523" cy="333" r="6.1"/><circle cx="1497" cy="352" r="6.1"/><circle cx="1487" cy="387" r="6.1"/></g>
<g fill="#e8975c" fill-opacity="0.16"><circle cx="1733.5" cy="116" r="6.1"/><circle cx="1748" cy="175" r="6.1"/><circle cx="1757" cy="180" r="6.1"/><circle cx="1655" cy="296" r="6.1"/><circle cx="1675" cy="286" r="6.1"/><circle cx="1763" cy="331" r="6.1"/><circle cx="1755" cy="322" r="6.1"/><circle cx="1516" cy="540" r="6.1"/><circle cx="1482" cy="585" r="6.1"/><circle cx="1600" cy="432" r="6.1"/></g>
<g fill="#66c2a5" fill-opacity="0.16"><circle cx="1748" cy="440" r="6.1"/><circle cx="1758" cy="450" r="6.1"/><circle cx="1741" cy="373" r="6.1"/><circle cx="1732" cy="393" r="6.1"/><circle cx="1763" cy="540" r="6.1"/><circle cx="1755" cy="525" r="6.1"/><circle cx="1700" cy="645" r="6.1"/><circle cx="1700" cy="660" r="6.1"/></g>
<circle cx="1741" cy="71.6" r="6.1" fill="#6f6a62" fill-opacity="0.22"/>
<g fill="#5b9bd0" fill-opacity="0.16"><circle cx="1734" cy="107" r="6.1"/><circle cx="1690.7" cy="129.9" r="6.1"/><circle cx="1668" cy="150" r="6.1"/><circle cx="1664.9" cy="159.4" r="6.1"/><circle cx="1696" cy="170.6" r="6.1"/></g>
<path d="M222.5 972.8C231.8 972.8 282.2 972.7 300 972.5C317.8 972.3 354.1 971.8 371 971.5C387.9 971.2 422.9 970.7 441 970.3C459.1 969.9 505.1 968.5 521.8 968C538.5 967.5 560.9 966.6 580 966C599.1 965.4 656.5 963.7 680.6 963C704.7 962.3 757 961 781.1 959.9C805.2 958.8 860.2 955.3 881.7 953.8C903.2 952.3 948.2 948.3 960 947.3C971.8 946.3 974.7 946 980 945.3C985.3 944.6 995.7 942.4 1003.8 941.5C1011.9 940.6 1039.7 938.9 1047.6 937.9C1055.5 936.9 1061.6 934.3 1069.5 933.5C1077.4 932.7 1102.8 932.1 1113.3 931.3C1123.8 930.5 1146.6 928 1157.1 927C1167.6 926 1193.1 923.7 1201 922.6C1208.9 921.5 1215 919.1 1222.9 918.2C1230.8 917.3 1258.8 915.8 1266.7 914.9C1274.6 914 1282 911.8 1288.6 910.5C1295.2 909.2 1316.4 905.3 1321.4 904C1326.4 902.7 1326.5 901.7 1330 900C1333.5 898.3 1345.6 891.9 1350.5 889.5C1355.4 887.1 1366.2 882.8 1371.1 880.3C1376 877.8 1387.2 871.2 1391.6 869C1396 866.8 1403.6 864.5 1408 861.8C1412.4 859.1 1424.2 849.7 1428.6 846.4C1433 843.1 1441.8 837.5 1445 834.1C1448.2 830.7 1452.8 821.2 1455.3 817.7C1457.8 814.2 1462.3 808 1465.5 805.3C1468.7 802.6 1477.2 795 1481.9 795.1C1486.6 795.2 1499.8 805.9 1504.5 806.4C1509.2 806.9 1517.1 800.4 1521 799.2C1524.9 798 1534.2 797.6 1537.4 796.1C1540.6 794.6 1545 790.7 1547.7 786.9C1550.4 783.1 1557.5 768.5 1560 764.3C1562.5 760.1 1565.7 755 1568.2 752C1570.7 749 1577.8 743.1 1580.5 739.6C1583.2 736.1 1588.6 727.1 1590.8 723.2C1593 719.3 1597.2 709.5 1599 706.8C1600.8 704.1 1604.3 701.7 1606 700.5C1607.7 699.3 1611.1 701.4 1613 697C1614.9 692.6 1620 671.3 1622 664C1624 656.7 1628.4 641.1 1630 636C1631.6 630.9 1633.8 625.3 1635.6 621.2C1637.4 617.1 1642.7 608.8 1645.2 602.1C1647.7 595.4 1654.2 572 1656.7 565.6C1659.2 559.2 1663.4 551.5 1666.2 548.4C1669 545.3 1676.7 538.2 1679.7 539.8C1682.7 541.4 1688.3 556.1 1691.2 561.8C1694.1 567.5 1700.8 586.1 1703.6 587.7C1706.4 589.3 1712 581.1 1714.2 575.2C1716.4 569.3 1720 548.2 1721.8 538.8C1723.6 529.4 1727.9 504.3 1729.5 496.7C1731.1 489.1 1733.4 479.3 1735.2 475.6C1737 471.9 1742.5 466.2 1744.8 466C1747.1 465.8 1751.9 470.9 1754.4 473.7C1756.9 476.5 1764.6 487.6 1766 489.5" fill="none" stroke="#6dbfa8" stroke-width="8.6" stroke-linejoin="round" stroke-linecap="square"/>
<path d="M222.5 972.5 L300 972 L371 970.3 L441 969 L521.8 966.5 L580 964.5 L680.6 959.9 L781.1 954.9 L881.7 948.4 L960 939 L1003.8 931.4 L1047.6 924.8 L1069.5 919.3 L1113.3 910.5 L1135.2 908.3 L1157.1 900.7 L1179.1 895.2 L1201 889.7 L1222.9 882.1 L1244.8 877.7 L1266.7 873.3 L1288.6 864.5 L1321.4 855.8 L1332.9 846.4" fill="none" stroke="#e09a64" stroke-width="9" stroke-linejoin="round" stroke-dasharray="33.7 15.4" stroke-dashoffset="0.7"/>
<path d="M1332.9 846.4 L1334.1 845.4 L1356.7 824.8 L1369 811.5 L1388.5 787.9 L1403.9 776.6 L1412.1 764.3 L1420.3 752 L1426.5 732.4 L1434.7 721.1 L1442.9 708.8 L1450.1 690.3 L1457.3 661.6 L1463.5 641.1 L1471.7 630.8 L1478.9 618.5 L1485 612.3 L1491.2 620.5 L1502.5 639 L1510.7 637 L1527.1 634.9 L1536.4 638 L1544.6 633.9 L1550.7 623.6 L1557.9 602 L1566.1 575.1 L1579.5 562.7 L1588.7 552.5 L1594.9 538.1 L1603.1 521.7 L1610.3 515.5 L1615.4 497 L1620.2 481.1" fill="none" stroke="#e09a64" stroke-width="9" stroke-linejoin="round" stroke-dasharray="33.7 15.4" stroke-dashoffset="1.2"/>
<path d="M1620.2 481.1 L1621.6 476.5 L1630 447.8 L1634.3 420 L1639.7 403.8 L1648.6 386 L1655.7 355.8 L1663.7 334.4 L1668.1 320.2 L1674.4 311.3 L1680 311.5 L1685.9 321.9 L1694.8 352.2 L1700.2 371.8 L1706.4 384.2 L1713.5 373.6 L1718 352.2 L1722.4 320.2 L1726.9 288.1 L1733.1 249 L1735.8 234.7 L1744.7 226.7 L1755.3 240.1 L1765.1 257" fill="none" stroke="#e09a64" stroke-width="9" stroke-linejoin="round" stroke-dasharray="33.7 15.4" stroke-dashoffset="0.5"/>
<path d="M222.5 971.8C231.8 971.8 285.8 971.6 300 971.5C314.2 971.4 332.3 971.5 340.8 970.7C349.3 969.9 359 966.1 371 964.7C383 963.3 422.9 959.9 441 958.7C459.1 957.5 505.1 955.7 521.8 954.6C538.5 953.5 570.6 950.3 580 949.2C589.4 948.1 595.2 946.5 600 945.6C604.8 944.7 614.6 942.5 620.2 941.8C625.8 941.1 640.6 941.1 646.4 939.8C652.2 938.5 662 933.5 668.5 930.7C675 927.9 693.2 919.4 700.7 916.6C708.2 913.8 723.6 909.5 730.8 907.6C738 905.7 755 901.8 761 900.6C767 899.4 776.8 897.9 781.1 897.5C785.4 897.1 794.1 897.2 797.2 897.5C800.3 897.8 803.7 900.2 807.3 900C810.9 899.8 823.3 897.4 827.4 896.1C831.5 894.8 837.8 890.8 841.4 889.5C845 888.2 854.1 886.1 857.5 885.5C860.9 884.9 865.3 885.6 869.6 884.5C873.9 883.4 887.4 878.3 893.7 876.4C900 874.5 914.9 869.5 921.9 868.4C928.9 867.3 947.2 867.6 952 867.4C956.8 867.2 958.4 867.4 962 866.5C965.6 865.6 976.9 861.6 981.9 860.2C986.9 858.8 998.5 856.5 1003.8 854.7C1009.1 852.9 1020.4 847.3 1025.7 844.8C1031 842.3 1042.3 837.7 1047.6 833.9C1052.9 830.1 1064.2 816.9 1069.5 813.1C1074.8 809.3 1087.2 805.5 1091.4 802.1C1095.6 798.7 1101.4 787.5 1104.6 784.6C1107.8 781.7 1112.7 779.3 1117.7 778C1122.7 776.7 1140.9 775.6 1146.2 773.6C1151.5 771.6 1158.3 763.8 1161.5 761.6C1164.7 759.4 1169.9 757.6 1172.5 755C1175.1 752.4 1181 742.1 1183.4 739.7C1185.8 737.3 1186.2 739.4 1192.2 735.3C1198.2 731.2 1225.7 710.3 1233.8 705.7C1241.9 701.1 1254.8 699.6 1260.1 697C1265.4 694.4 1273.9 686.2 1277.6 683.8C1281.3 681.4 1287.9 679.4 1290.8 677.2C1293.7 675 1299.3 667.2 1301.7 665.2C1304.1 663.2 1307.9 661.5 1310.5 660.8C1313.1 660.1 1321.1 660.6 1323.6 659.7C1326.1 658.8 1328.7 655.9 1331 653C1333.3 650.1 1340.2 639.9 1343 635.5C1345.8 631.1 1351.2 620.6 1354.6 616.1C1358 611.6 1367.6 602.1 1371.1 597.7C1374.6 593.3 1380.7 582.7 1383.4 579.2C1386.1 575.7 1391 570.9 1393.7 568.9C1396.4 566.9 1403.3 565.4 1406 562.7C1408.7 560 1413 553.4 1416.2 546.3C1419.4 539.2 1429.5 510.3 1432.7 503.2C1435.9 496.1 1440.7 490 1442.9 486.8C1445.1 483.6 1449.4 480.2 1451.1 476.5C1452.8 472.8 1455.6 460.4 1457.3 456C1459 451.6 1463.5 442.5 1465.5 439.5C1467.5 436.5 1472 433.6 1473.7 431.3C1475.4 429 1478.4 421.8 1479.9 420C1481.4 418.2 1483.3 415.2 1486.1 415.9C1488.9 416.6 1500.3 426.1 1503.5 426.2C1506.7 426.3 1510.7 419.2 1512.8 417C1514.9 414.8 1519.3 408.9 1521 407.7C1522.7 406.5 1524.3 406.3 1527.1 406.7C1529.9 407.1 1541.8 411.8 1544.6 410.8C1547.4 409.8 1548.3 404.9 1550.7 398.5C1553.1 392.1 1562.1 363.1 1564.9 357.5C1567.7 351.9 1571 355.4 1573.8 352.2C1576.6 349 1585.4 336.6 1588 330.8C1590.6 325 1593.5 308.9 1595.2 304.2C1596.9 299.5 1600 297 1602.3 291.7C1604.6 286.4 1612.1 266.5 1614.7 259.7C1617.3 252.9 1621.7 239.1 1623.6 234.7C1625.5 230.3 1629.1 224.7 1630.8 223.2C1632.5 221.7 1635.6 221.4 1637.9 222.3C1640.2 223.2 1648.2 228.6 1650.3 230.3C1652.4 232 1654.2 237.9 1655.7 236.5C1657.2 235.1 1661.3 222.5 1662.8 218.7C1664.3 214.9 1666.8 207.7 1668.1 204.5C1669.4 201.3 1672.5 194.1 1674 192C1675.5 189.9 1679.2 186.4 1681 187C1682.8 187.6 1687.1 194.3 1689 197C1690.9 199.7 1694.6 206.8 1696.6 209.8C1698.6 212.8 1703.3 219.6 1705.5 222.3C1707.7 225 1713.2 232.1 1715.3 232.1C1717.4 232.1 1721.1 226.2 1723.3 222.3C1725.5 218.4 1731.5 203 1734 199.2C1736.5 195.4 1741.7 190.3 1743.8 190.3C1745.9 190.3 1749 194.8 1751.8 199.2C1754.6 203.6 1765.5 223.8 1767.4 227.1" fill="none" stroke="#70a7cf" stroke-width="9.2" stroke-linejoin="round" stroke-linecap="square"/>
<path d="M293.1 930.3 L323.4 980.2 L262.8 980.2 Z" fill="#4974ca" stroke="#30549a" stroke-width="1.5" stroke-linejoin="miter"/>
<path d="M637.4 887.5 L667.4 937.8 L607.4 937.8 Z" fill="#4974ca" stroke="#30549a" stroke-width="1.5" stroke-linejoin="miter"/>
<path d="M922.5 840.8 L952.7 891.1 L892.3 891.1 Z" fill="#4974ca" stroke="#30549a" stroke-width="1.5" stroke-linejoin="miter"/>
<path d="M1218.5 689.3 L1248.6 739.2 L1188.4 739.2 Z" fill="#4974ca" stroke="#30549a" stroke-width="1.5" stroke-linejoin="miter"/>
<path d="M1424.3 495.6 L1454.4 545.3 L1394.2 545.3 Z" fill="#4974ca" stroke="#30549a" stroke-width="1.5" stroke-linejoin="miter"/>
<path d="M1679.4 160 L1709.4 209.5 L1649.4 209.5 Z" fill="#4974ca" stroke="#30549a" stroke-width="1.5" stroke-linejoin="miter"/>
<rect x="145.25" y="26" width="2.05" height="990.1" fill="#5a5e62"/>
<rect x="145.25" y="1014.1" width="1696.9" height="2.05" fill="#282a2e" fill-opacity="0.52"/>
<rect x="143.9" y="24.6" width="1.35" height="994" fill="#1c1c1c"/>
<rect x="143.9" y="24.6" width="3.4" height="1.5" fill="#111"/>
<rect x="143.9" y="1016.1" width="1700.7" height="2.5" fill="#000"/>
<path d="M133 973.4 H144 M133 857 H144 M133 740.7 H144 M133 624.3 H144 M133 508 H144 M133 391.6 H144 M133 275.2 H144 M133 158.9 H144 M133 42.5 H144 M223.3 1018.4 V1029.2 M521.4 1018.4 V1029.2 M819.5 1018.4 V1029.2 M1117.5 1018.4 V1029.2 M1415.6 1018.4 V1029.2 M1713.6 1018.4 V1029.2 M1843.1 971.9 H1856.5 M1843.1 793.8 H1856.5 M1843.1 615.8 H1856.5 M1843.1 437.7 H1856.5 M1843.1 259.7 H1856.5 M1843.1 81.6 H1856.5" stroke="#000" stroke-width="2.8" fill="none"/>
<g font-family="Liberation Sans, sans-serif" font-size="38.6" fill="#0a0a0a">
<text x="121.3" y="985.9" text-anchor="end" textLength="20.9" lengthAdjust="spacingAndGlyphs">0</text>
<text x="121.3" y="869.5" text-anchor="end" textLength="41.8" lengthAdjust="spacingAndGlyphs">10</text>
<text x="121.3" y="753.2" text-anchor="end" textLength="41.8" lengthAdjust="spacingAndGlyphs">20</text>
<text x="121.3" y="636.8" text-anchor="end" textLength="41.8" lengthAdjust="spacingAndGlyphs">30</text>
<text x="121.3" y="520.5" text-anchor="end" textLength="41.8" lengthAdjust="spacingAndGlyphs">40</text>
<text x="121.3" y="404.1" text-anchor="end" textLength="41.8" lengthAdjust="spacingAndGlyphs">50</text>
<text x="121.3" y="287.7" text-anchor="end" textLength="41.8" lengthAdjust="spacingAndGlyphs">60</text>
<text x="121.3" y="171.4" text-anchor="end" textLength="41.8" lengthAdjust="spacingAndGlyphs">70</text>
<text x="121.3" y="55" text-anchor="end" textLength="41.8" lengthAdjust="spacingAndGlyphs">80</text>
<text x="222.5" y="1068.8" text-anchor="middle" textLength="41.8" lengthAdjust="spacingAndGlyphs">20</text>
<text x="520.6" y="1068.8" text-anchor="middle" textLength="41.8" lengthAdjust="spacingAndGlyphs">40</text>
<text x="818.7" y="1068.8" text-anchor="middle" textLength="41.8" lengthAdjust="spacingAndGlyphs">60</text>
<text x="1116.7" y="1068.8" text-anchor="middle" textLength="41.8" lengthAdjust="spacingAndGlyphs">80</text>
<text x="1414.8" y="1068.8" text-anchor="middle" textLength="62.7" lengthAdjust="spacingAndGlyphs">100</text>
<text x="1712.8" y="1068.8" text-anchor="middle" textLength="62.7" lengthAdjust="spacingAndGlyphs">120</text>
<text x="1867.3" y="986.7" text-anchor="start" textLength="20.9" lengthAdjust="spacingAndGlyphs">0</text>
<text x="1867.3" y="808.6" text-anchor="start" textLength="41.8" lengthAdjust="spacingAndGlyphs">10</text>
<text x="1867.3" y="630.6" text-anchor="start" textLength="41.8" lengthAdjust="spacingAndGlyphs">20</text>
<text x="1867.3" y="452.5" text-anchor="start" textLength="41.8" lengthAdjust="spacingAndGlyphs">30</text>
<text x="1867.3" y="274.5" text-anchor="start" textLength="41.8" lengthAdjust="spacingAndGlyphs">40</text>
<text x="1867.3" y="96.4" text-anchor="start" textLength="41.8" lengthAdjust="spacingAndGlyphs">50</text>
</g>
<g font-family="Liberation Sans, sans-serif" font-size="41" fill="#0a0a0a">
<text x="993.5" y="1121" text-anchor="middle" textLength="172" lengthAdjust="spacingAndGlyphs">Time (h)</text>
<text transform="translate(54.2 523.8) rotate(-90)" text-anchor="middle" textLength="217" lengthAdjust="spacingAndGlyphs">Area (cm²)</text>
<text transform="translate(1956.4 523.7) rotate(-90)" text-anchor="middle" textLength="256.5" lengthAdjust="spacingAndGlyphs">Height (mm)</text>
</g>
<path d="M412.7 52.5 H511" stroke="#6dbfa8" stroke-width="9" fill="none"/>
<path d="M885.7 52.5 H984" stroke="#e09a64" stroke-width="9" fill="none" stroke-dasharray="34.7 14.1"/>
<path d="M1336.6 52.5 H1435.5" stroke="#70a7cf" stroke-width="9" fill="none"/>
<g font-family="Liberation Sans, sans-serif" font-size="35.5" fill="#64686c">
<text x="534" y="65.9" textLength="302.5" lengthAdjust="spacingAndGlyphs">XY projected area</text>
<text x="1002" y="65.9" textLength="290" lengthAdjust="spacingAndGlyphs">Cap surface area</text>
<text x="1457.5" y="65.9" textLength="111.5" lengthAdjust="spacingAndGlyphs">Height</text>
</g>
<g font-family="Liberation Serif, serif" font-weight="bold" font-size="44.5" fill="#000">
<text x="200" y="129.7" textLength="247" lengthAdjust="spacingAndGlyphs">Growth Stage</text>
<text x="1596.5" y="114" textLength="134" lengthAdjust="spacingAndGlyphs">Mature</text>
</g>
<rect x="0" y="1153" width="1989" height="308" fill="#000"/>
<defs><filter id="nz" x="0" y="0" width="100%" height="100%"><feTurbulence type="fractalNoise" baseFrequency="0.028 0.028" numOctaves="3" seed="4"/><feColorMatrix type="matrix" values="0 0 0 0 0.2  0 0 0 0 0.2  0 0 0 0 0.2  2.6 0 0 0 -0.95"/></filter><filter id="nzl" x="0" y="0" width="100%" height="100%"><feTurbulence type="fractalNoise" baseFrequency="0.11 0.11" numOctaves="2" seed="12"/><feColorMatrix type="matrix" values="0 0 0 0 0.82  0 0 0 0 0.82  0 0 0 0 0.82  0 2.6 0 0 -1.05"/></filter><filter id="nz2" x="0" y="0" width="100%" height="100%"><feTurbulence type="fractalNoise" baseFrequency="0.16 0.16" numOctaves="2" seed="9"/><feColorMatrix type="matrix" values="0 0 0 0 0.15  0 0 0 0 0.15  0 0 0 0 0.15  0 0 1.6 0 -0.6"/></filter><filter id="bl" x="-5%" y="-5%" width="110%" height="110%"><feGaussianBlur stdDeviation="0.9"/></filter><filter id="bl3" x="-20%" y="-20%" width="140%" height="140%"><feGaussianBlur stdDeviation="9"/></filter><filter id="bl2" x="-10%" y="-10%" width="120%" height="120%"><feGaussianBlur stdDeviation="1.6"/></filter><radialGradient id="m1" cx="0.48" cy="0.46" r="0.56"><stop offset="0" stop-color="#fbfbfb"/><stop offset="0.6" stop-color="#f0f0f0"/><stop offset="0.88" stop-color="#d2d2d2"/><stop offset="1" stop-color="#a8a8a8"/></radialGradient><radialGradient id="m2" cx="0.48" cy="0.45" r="0.58"><stop offset="0" stop-color="#f1f1f1"/><stop offset="0.55" stop-color="#dcdcdc"/><stop offset="0.86" stop-color="#c2c2c2"/><stop offset="1" stop-color="#9c9c9c"/></radialGradient><radialGradient id="m3" cx="0.5" cy="0.45" r="0.6"><stop offset="0" stop-color="#e4e4e4"/><stop offset="0.6" stop-color="#cfcfcf"/><stop offset="0.88" stop-color="#bababa"/><stop offset="1" stop-color="#9a9a9a"/></radialGradient><radialGradient id="m4" cx="0.5" cy="0.47" r="0.56"><stop offset="0" stop-color="#dedede"/><stop offset="0.6" stop-color="#cdcdcd"/><stop offset="0.88" stop-color="#b9b9b9"/><stop offset="1" stop-color="#9c9c9c"/></radialGradient><radialGradient id="m5" cx="0.5" cy="0.44" r="0.58"><stop offset="0" stop-color="#f2f2f2"/><stop offset="0.3" stop-color="#e2e2e2"/><stop offset="0.65" stop-color="#cecece"/><stop offset="0.9" stop-color="#b8b8b8"/><stop offset="1" stop-color="#9a9a9a"/></radialGradient><g id="bg"><rect width="260" height="259" fill="#828282"/><rect width="260" height="259" filter="url(#nz)" opacity="0.7"/><g filter="url(#bl)" stroke-linecap="round"><g filter="url(#bl3)"><ellipse cx="218" cy="52" rx="42" ry="38" fill="#4c4c4c" opacity="0.75"/><ellipse cx="152" cy="150" rx="46" ry="38" fill="#545454" opacity="0.55"/><ellipse cx="140" cy="218" rx="34" ry="24" fill="#505050" opacity="0.6"/><ellipse cx="60" cy="232" rx="38" ry="24" fill="#585858" opacity="0.5"/><ellipse cx="20" cy="36" rx="20" ry="30" fill="#585858" opacity="0.55"/><ellipse cx="225" cy="215" rx="36" ry="40" fill="#5a5a5a" opacity="0.45"/><ellipse cx="30" cy="130" rx="34" ry="50" fill="#c4c4c4" opacity="0.5"/><ellipse cx="110" cy="40" rx="70" ry="34" fill="#bdbdbd" opacity="0.45"/><ellipse cx="40" cy="185" rx="28" ry="24" fill="#c0c0c0" opacity="0.4"/></g><path d="M80.7 31.9L88 11.7" stroke="#c2c2c2" stroke-width="2.5" opacity="0.70"/><path d="M9.6 15.2L52.6 13.5" stroke="#c3c3c3" stroke-width="4.9" opacity="0.76"/><path d="M3.9 51.5L11.7 41.9" stroke="#c9c9c9" stroke-width="3.1" opacity="0.76"/><path d="M168.9 93.5L185.8 73.3" stroke="#d9d9d9" stroke-width="3" opacity="0.92"/><path d="M91.2 59.1L113.8 40.5" stroke="#e7e7e7" stroke-width="3.2" opacity="0.63"/><path d="M264.4 22.8L307 23.3" stroke="#c4c4c4" stroke-width="3.3" opacity="0.75"/><path d="M210.9 217.5L223.2 244.3" stroke="#f3f3f3" stroke-width="3.1" opacity="0.71"/><path d="M176 6.9L253.4 -39.4" stroke="#e4e4e4" stroke-width="2.2" opacity="0.51"/><path d="M119.3 36.7L130.7 22" stroke="#f1f1f1" stroke-width="4.4" opacity="0.72"/><path d="M36.6 101.7L120.9 63.6" stroke="#d3d3d3" stroke-width="2.3" opacity="0.90"/><path d="M258.2 32L263 25.1" stroke="#cfcfcf" stroke-width="3.9" opacity="0.57"/><path d="M25.1 228.9L72 143.5" stroke="#d5d5d5" stroke-width="4.9" opacity="0.68"/><path d="M124.8 101.3L129.1 88" stroke="#c0c0c0" stroke-width="1.6" opacity="0.57"/><path d="M18.4 91.1L25.9 70.5" stroke="#e0e0e0" stroke-width="5.9" opacity="0.71"/><path d="M22.3 125.7L35.1 122.1" stroke="#d9d9d9" stroke-width="5.3" opacity="0.81"/><path d="M134.6 47L143.3 49.4" stroke="#eeeeee" stroke-width="3.4" opacity="0.81"/><path d="M63.1 91.9L81.5 70.8" stroke="#e1e1e1" stroke-width="2.7" opacity="0.85"/><path d="M102.2 213.3L110.7 216.5" stroke="#cdcdcd" stroke-width="2" opacity="0.81"/><path d="M257.8 114.3L262.6 129.8" stroke="#cbcbcb" stroke-width="1.9" opacity="0.78"/><path d="M242.1 223.6L273.8 221.7" stroke="#d4d4d4" stroke-width="3.7" opacity="0.82"/><path d="M168 14.1L179 15.9" stroke="#c1c1c1" stroke-width="3.4" opacity="0.77"/><path d="M156.8 121.9L164.3 117.8" stroke="#dcdcdc" stroke-width="5.1" opacity="0.92"/><path d="M111.5 232.3L137.8 235.5" stroke="#dddddd" stroke-width="4.2" opacity="0.88"/><path d="M7.1 195.7L79.3 182.4" stroke="#c7c7c7" stroke-width="5.7" opacity="0.57"/><path d="M133 232.6L141.1 222.2" stroke="#c3c3c3" stroke-width="3.7" opacity="0.81"/><path d="M138.6 124.1L139 114.6" stroke="#c1c1c1" stroke-width="2.4" opacity="0.90"/><path d="M7.7 80.5L23.8 57.9" stroke="#e5e5e5" stroke-width="3.3" opacity="0.89"/><path d="M254.1 223.5L270.8 213" stroke="#cbcbcb" stroke-width="4.5" opacity="0.64"/><path d="M24.3 206L87.4 281.2" stroke="#d5d5d5" stroke-width="3.3" opacity="0.72"/><path d="M267.2 221.4L328.5 193.8" stroke="#c4c4c4" stroke-width="2.2" opacity="0.66"/><path d="M84.6 117.5L93.2 100.6" stroke="#f1f1f1" stroke-width="3.7" opacity="0.60"/><path d="M235.4 13.4L247.5 0" stroke="#f1f1f1" stroke-width="2.3" opacity="0.87"/><path d="M62.4 31.5L64.9 41.3" stroke="#c3c3c3" stroke-width="4.5" opacity="0.92"/><path d="M167.6 212.9L180.9 201" stroke="#f5f5f5" stroke-width="1.5" opacity="0.69"/><path d="M246.3 162.8L252.5 152.5" stroke="#cacaca" stroke-width="1.6" opacity="0.64"/><path d="M75.4 201.1L89.5 212.3" stroke="#c1c1c1" stroke-width="6" opacity="0.51"/><path d="M131.6 261.9L144.1 212.6" stroke="#dadada" stroke-width="4.5" opacity="0.88"/><path d="M100.1 130.9L132.4 152.3" stroke="#d5d5d5" stroke-width="5.1" opacity="0.66"/><path d="M13.7 223.9L19.4 207.9" stroke="#c8c8c8" stroke-width="2.4" opacity="0.70"/><path d="M63.7 257.4L70.8 217.4" stroke="#d2d2d2" stroke-width="1.8" opacity="0.54"/><path d="M68.1 172.4L84.8 178.5" stroke="#c2c2c2" stroke-width="2.3" opacity="0.51"/><path d="M75.2 54.7L106 28.4" stroke="#f5f5f5" stroke-width="2.1" opacity="0.57"/><path d="M192.8 168.8L209.8 147.9" stroke="#dbdbdb" stroke-width="2.8" opacity="0.91"/><path d="M200.8 148L226.7 116.2" stroke="#cccccc" stroke-width="5.2" opacity="0.51"/><path d="M27.3 90.3L32.9 82.1" stroke="#cdcdcd" stroke-width="2.5" opacity="0.62"/><path d="M117.9 9.5L141.7 -16.5" stroke="#cecece" stroke-width="1.6" opacity="0.83"/><path d="M47.5 195.7L72.3 188.9" stroke="#e1e1e1" stroke-width="5.4" opacity="0.79"/><path d="M-6.5 6.9L8.4 0.9" stroke="#cfcfcf" stroke-width="2.8" opacity="0.71"/><path d="M204.8 266.1L215.9 170.3" stroke="#ececec" stroke-width="2.4" opacity="0.94"/><path d="M115.8 64.7L148.5 28" stroke="#cecece" stroke-width="2.9" opacity="0.66"/><path d="M21.5 91.5L22.9 100.3" stroke="#d8d8d8" stroke-width="2.4" opacity="0.64"/><path d="M29.4 85.6L48.8 90.6" stroke="#f2f2f2" stroke-width="2.3" opacity="0.59"/><path d="M-6.7 195.7L29.5 222.4" stroke="#d7d7d7" stroke-width="2.2" opacity="0.62"/><path d="M3.5 18.3L41.1 -4.5" stroke="#e9e9e9" stroke-width="2.1" opacity="0.85"/><path d="M109.8 -1.9L179.7 25.7" stroke="#e7e7e7" stroke-width="3.5" opacity="0.70"/><path d="M200.7 169.2L258.7 217.1" stroke="#cfcfcf" stroke-width="2.3" opacity="0.62"/><path d="M196.8 171.5L202.1 199.6" stroke="#c8c8c8" stroke-width="1.8" opacity="0.59"/><path d="M243.7 128.2L277.9 139.7" stroke="#cdcdcd" stroke-width="2.5" opacity="0.58"/><path d="M145.6 78.8L184.4 91.5" stroke="#d6d6d6" stroke-width="4.5" opacity="0.74"/><path d="M95.5 84L106.8 65.9" stroke="#eaeaea" stroke-width="4.8" opacity="0.88"/><path d="M15.9 239.3L29.2 280.5" stroke="#c1c1c1" stroke-width="5.7" opacity="0.51"/><path d="M188.7 239L199.4 238.7" stroke="#dcdcdc" stroke-width="5.8" opacity="0.71"/><path d="M115.7 207.7L148.4 213.7" stroke="#e2e2e2" stroke-width="5.3" opacity="0.84"/><path d="M209 54.7L234.6 44.3" stroke="#c5c5c5" stroke-width="3" opacity="0.64"/><path d="M211.3 -9.7L229.7 -16.8" stroke="#dcdcdc" stroke-width="4" opacity="0.75"/><path d="M-1.8 104.5L25.7 74.5" stroke="#cccccc" stroke-width="3.6" opacity="0.69"/><path d="M93.7 127L102.8 147.8" stroke="#ededed" stroke-width="2.1" opacity="0.53"/><path d="M128.8 45.7L142.6 12.3" stroke="#dadada" stroke-width="3.3" opacity="0.58"/><path d="M52.5 105.9L68.4 89.9" stroke="#c7c7c7" stroke-width="3.4" opacity="0.52"/><path d="M6.8 99.3L88.9 149.7" stroke="#f2f2f2" stroke-width="1.9" opacity="0.84"/><path d="M-1.1 174.7L5.6 243.7" stroke="#c4c4c4" stroke-width="1.6" opacity="0.69"/><path d="M237.8 146L256.5 151.6" stroke="#e6e6e6" stroke-width="3.6" opacity="0.59"/><path d="M196.4 121.9L205.1 143.2" stroke="#ebebeb" stroke-width="2.4" opacity="0.53"/><path d="M44.6 7.5L85 23.1" stroke="#e5e5e5" stroke-width="2.9" opacity="0.92"/><path d="M73.3 190.6L86.7 168.8" stroke="#d4d4d4" stroke-width="5.9" opacity="0.61"/><path d="M110.4 127.2L188.7 92.5" stroke="#e0e0e0" stroke-width="5.4" opacity="0.65"/><path d="M79.5 90.6L88.1 79.7" stroke="#dadada" stroke-width="2.7" opacity="0.75"/><path d="M35 108.6L43.7 101.7" stroke="#e6e6e6" stroke-width="2.4" opacity="0.70"/><path d="M55.6 105.9L104.6 40.7" stroke="#cfcfcf" stroke-width="3.1" opacity="0.76"/><path d="M94.4 195.2L110.3 200.4" stroke="#cacaca" stroke-width="3.2" opacity="0.53"/><path d="M60.5 58.4L74.6 37.6" stroke="#efefef" stroke-width="1.5" opacity="0.60"/><path d="M115.5 93.9L137.8 73.5" stroke="#c4c4c4" stroke-width="3.9" opacity="0.73"/><path d="M39.8 157.6L49.8 128.4" stroke="#c7c7c7" stroke-width="2.2" opacity="0.59"/><path d="M61.4 156.6L120.5 189.2" stroke="#c4c4c4" stroke-width="2.7" opacity="0.51"/><path d="M212.8 174.6L225.5 168.4" stroke="#cfcfcf" stroke-width="4.5" opacity="0.64"/><path d="M256.9 76.8L290.5 90.8" stroke="#d5d5d5" stroke-width="5.1" opacity="0.68"/><path d="M253.8 110.7L310.8 74.9" stroke="#c8c8c8" stroke-width="4.6" opacity="0.51"/><path d="M144.4 168.1L207 109.8" stroke="#c8c8c8" stroke-width="2.2" opacity="0.58"/><path d="M8.8 96.7L28.4 53.5" stroke="#e0e0e0" stroke-width="4.2" opacity="0.79"/><path d="M14.2 188L85.3 153.2" stroke="#d9d9d9" stroke-width="3.9" opacity="0.75"/><path d="M1.7 250.9L16 241.5" stroke="#c2c2c2" stroke-width="5.7" opacity="0.75"/><path d="M202.1 0.6L229.6 7.6" stroke="#d6d6d6" stroke-width="4.2" opacity="0.76"/><path d="M109.2 173.2L117.1 171.1" stroke="#d8d8d8" stroke-width="4.6" opacity="0.78"/><path d="M219.3 222.6L239.6 216.1" stroke="#dbdbdb" stroke-width="3" opacity="0.80"/><path d="M1.4 26.2L9.8 31.6" stroke="#f3f3f3" stroke-width="2.2" opacity="0.56"/><path d="M230 266.9L272.8 208.9" stroke="#c8c8c8" stroke-width="5.8" opacity="0.85"/><path d="M250.6 8.2L268.2 17.6" stroke="#d8d8d8" stroke-width="5.8" opacity="0.61"/><path d="M260 123.5L275.9 138.4" stroke="#e2e2e2" stroke-width="2.3" opacity="0.63"/><path d="M81.8 94.8L103.8 72.2" stroke="#dddddd" stroke-width="3.2" opacity="0.76"/><path d="M237.1 19.1L258.1 25.4" stroke="#d1d1d1" stroke-width="1.8" opacity="0.54"/><path d="M54.4 161.1L62.4 143.3" stroke="#f2f2f2" stroke-width="5.7" opacity="0.90"/><path d="M195.3 197.7L218.9 201.9" stroke="#c7c7c7" stroke-width="3.2" opacity="0.60"/><path d="M172.9 -3.8L188.1 -26.5" stroke="#d0d0d0" stroke-width="2.3" opacity="0.56"/><path d="M92.5 220.3L137.1 182.6" stroke="#e2e2e2" stroke-width="1.7" opacity="0.89"/><path d="M209 101.7L244.6 87.4" stroke="#dfdfdf" stroke-width="4.9" opacity="0.77"/><path d="M-9.9 7.1L-4.9 -1.7" stroke="#dddddd" stroke-width="3.4" opacity="0.92"/><path d="M131.9 168.4L159 152.9" stroke="#d9d9d9" stroke-width="5.3" opacity="0.74"/><path d="M95 111.4L108 104.9" stroke="#e2e2e2" stroke-width="4.1" opacity="0.56"/><path d="M239.6 247.2L259.4 267.7" stroke="#dcdcdc" stroke-width="3" opacity="0.62"/><path d="M169.8 258.3L183.9 260.4" stroke="#cacaca" stroke-width="5.6" opacity="0.57"/><path d="M158.3 95.5L161.3 103.2" stroke="#cccccc" stroke-width="3.3" opacity="0.90"/><path d="M211 98.9L216.9 91.8" stroke="#c8c8c8" stroke-width="2.7" opacity="0.94"/><path d="M186.2 -1.4L212.2 -23" stroke="#dfdfdf" stroke-width="3.6" opacity="0.66"/><path d="M218.9 217.8L247.2 198.5" stroke="#cacaca" stroke-width="2" opacity="0.52"/><path d="M255.8 243.3L270.9 232.4" stroke="#e8e8e8" stroke-width="1.7" opacity="0.59"/><path d="M79.4 107.8L101.6 65.7" stroke="#e9e9e9" stroke-width="5.8" opacity="0.77"/><path d="M123.3 70L140.8 49.2" stroke="#c2c2c2" stroke-width="2.4" opacity="0.75"/><path d="M190 220.1L203.3 228.1" stroke="#c0c0c0" stroke-width="5.9" opacity="0.72"/><path d="M128.5 86.5L160.6 65.8" stroke="#c8c8c8" stroke-width="4" opacity="0.92"/><path d="M204.7 126.3L213 106.8" stroke="#f0f0f0" stroke-width="2.2" opacity="0.54"/><path d="M238.8 -3L250.4 -28.6" stroke="#e2e2e2" stroke-width="3.4" opacity="0.92"/><path d="M25.5 155.2L31.5 142.8" stroke="#e8e8e8" stroke-width="5.1" opacity="0.58"/><path d="M112.9 205L153.1 211.8" stroke="#d0d0d0" stroke-width="1.9" opacity="0.82"/><path d="M59.3 80.8L73.8 84.8" stroke="#c5c5c5" stroke-width="5.3" opacity="0.93"/><path d="M18.5 96.8L37.8 82.4" stroke="#c5c5c5" stroke-width="2.7" opacity="0.59"/><path d="M98.7 -0.6L114 5" stroke="#c1c1c1" stroke-width="4.2" opacity="0.62"/><path d="M196.7 -8.5L216.1 -30.4" stroke="#cccccc" stroke-width="4.5" opacity="0.82"/><path d="M236.4 205.2L258.9 215.7" stroke="#c5c5c5" stroke-width="2.7" opacity="0.69"/><path d="M209.1 188.3L228.9 173.3" stroke="#e4e4e4" stroke-width="4.5" opacity="0.92"/><path d="M41.3 171.9L61.2 132.6" stroke="#c8c8c8" stroke-width="2.5" opacity="0.85"/><path d="M253.4 134.3L266.1 125.3" stroke="#eaeaea" stroke-width="1.5" opacity="0.67"/><path d="M86 196.3L106.7 187.5" stroke="#f5f5f5" stroke-width="3.7" opacity="0.66"/><path d="M5.9 66.3L47.7 64.6" stroke="#dfdfdf" stroke-width="5.2" opacity="0.55"/><path d="M75 101.3L123.8 50.5" stroke="#c3c3c3" stroke-width="3.3" opacity="0.86"/><path d="M44.1 168.5L72.7 184.3" stroke="#d6d6d6" stroke-width="5.5" opacity="0.95"/><path d="M202.8 170.6L259.2 151.1" stroke="#d7d7d7" stroke-width="2" opacity="0.58"/><path d="M-9.2 190.7L6.8 202.3" stroke="#c4c4c4" stroke-width="2.7" opacity="0.90"/><path d="M32.8 74.3L127.5 70.3" stroke="#ececec" stroke-width="3.8" opacity="0.78"/><path d="M-5.8 -6.8L2.1 -15.5" stroke="#e9e9e9" stroke-width="1.9" opacity="0.66"/><path d="M32.7 241.3L40.5 163.3" stroke="#f0f0f0" stroke-width="5.1" opacity="0.85"/><path d="M237.2 144.3L293.3 187.8" stroke="#f0f0f0" stroke-width="2.4" opacity="0.82"/><path d="M59 35.8L71.9 4.6" stroke="#d9d9d9" stroke-width="2.1" opacity="0.69"/><path d="M270 177.9L278.1 173.9" stroke="#f2f2f2" stroke-width="5.2" opacity="0.65"/><path d="M264.9 132L280.6 129.8" stroke="#c5c5c5" stroke-width="1.7" opacity="0.80"/><path d="M85.6 206.4L94.8 184.2" stroke="#ececec" stroke-width="2.6" opacity="0.63"/><path d="M221.8 102.2L235.9 95.8" stroke="#cacaca" stroke-width="1.7" opacity="0.82"/><path d="M25.7 260.4L53.4 239.5" stroke="#c2c2c2" stroke-width="4.8" opacity="0.64"/><path d="M-8.3 42.8L2.6 78.4" stroke="#e1e1e1" stroke-width="5" opacity="0.78"/><path d="M49.5 175.4L81.4 168.9" stroke="#c5c5c5" stroke-width="4.5" opacity="0.92"/><path d="M-6.2 232.4L10 225.8" stroke="#d1d1d1" stroke-width="2.3" opacity="0.69"/><path d="M169.7 249.6L188.9 216.2" stroke="#e5e5e5" stroke-width="4.5" opacity="0.68"/><path d="M8.8 179L18.9 173" stroke="#c8c8c8" stroke-width="4" opacity="0.51"/><path d="M-8.7 180.1L40 150.4" stroke="#cecece" stroke-width="2.4" opacity="0.76"/><path d="M116.2 196.9L131.1 166.7" stroke="#cfcfcf" stroke-width="2.9" opacity="0.75"/><path d="M129.5 176.1L134.5 169.2" stroke="#c4c4c4" stroke-width="5.5" opacity="0.64"/><path d="M194.2 36.1L206.8 77.4" stroke="#c8c8c8" stroke-width="4.6" opacity="0.93"/><path d="M22.7 255.2L42.6 245.3" stroke="#eaeaea" stroke-width="5.9" opacity="0.76"/><path d="M71.9 6.9L78.9 11.8" stroke="#dfdfdf" stroke-width="3.1" opacity="0.94"/><path d="M58.9 97.7L146.1 117.6" stroke="#cecece" stroke-width="1.5" opacity="0.69"/><path d="M154.3 216.8L171 179.5" stroke="#f4f4f4" stroke-width="3.8" opacity="0.86"/><path d="M96.9 209L118.8 214.7" stroke="#dfdfdf" stroke-width="5.8" opacity="0.50"/><path d="M97.8 140.3L104.4 125" stroke="#efefef" stroke-width="3.2" opacity="0.73"/><path d="M43.8 40.2L61.7 25.9" stroke="#c2c2c2" stroke-width="1.8" opacity="0.95"/><path d="M94.7 19.5L101 48.9" stroke="#c1c1c1" stroke-width="2.5" opacity="0.52"/><path d="M267.3 230.8L308.5 221.6" stroke="#d8d8d8" stroke-width="1.7" opacity="0.77"/><path d="M160.4 26.4L190.8 -32" stroke="#d3d3d3" stroke-width="1.6" opacity="0.82"/><path d="M126.3 225.1L126.9 236.4" stroke="#c4c4c4" stroke-width="1.9" opacity="0.91"/><path d="M131.8 40.8L154.7 14.8" stroke="#f2f2f2" stroke-width="3.3" opacity="0.53"/><path d="M144.8 -2.3L159.9 -34.3" stroke="#c5c5c5" stroke-width="4.7" opacity="0.64"/><path d="M-8.4 45.3L18.7 28" stroke="#d5d5d5" stroke-width="2.2" opacity="0.67"/><path d="M96.3 112.7L163.4 90.4" stroke="#c8c8c8" stroke-width="5.5" opacity="0.87"/><path d="M11.8 162L19.8 185.2" stroke="#ededed" stroke-width="3.3" opacity="0.78"/><path d="M116.7 84.5L123.2 72.9" stroke="#e6e6e6" stroke-width="1.6" opacity="0.75"/><path d="M30.5 232.1L37.6 237.5" stroke="#ebebeb" stroke-width="2.1" opacity="0.62"/><path d="M20.6 116.8L63.9 95.9" stroke="#cbcbcb" stroke-width="5.1" opacity="0.71"/><path d="M70.1 61.7L82.2 48.8" stroke="#d5d5d5" stroke-width="2" opacity="0.69"/><path d="M35.4 221.4L71.7 210.6" stroke="#c0c0c0" stroke-width="1.8" opacity="0.87"/><path d="M137.4 41.7L155.7 40.7" stroke="#dcdcdc" stroke-width="3.1" opacity="0.60"/><path d="M39.2 157L69.1 136.7" stroke="#e4e4e4" stroke-width="1.8" opacity="0.78"/><path d="M43.8 75.6L51.7 53.9" stroke="#ebebeb" stroke-width="3.5" opacity="0.65"/><path d="M225.7 230.3L258.2 214.2" stroke="#cdcdcd" stroke-width="2.8" opacity="0.75"/><path d="M266 0.2L323.5 29.6" stroke="#c3c3c3" stroke-width="5.9" opacity="0.66"/><path d="M58.5 220.8L72.1 280.3" stroke="#d8d8d8" stroke-width="2.9" opacity="0.51"/><path d="M14.8 162.1L43.6 137" stroke="#e5e5e5" stroke-width="1.7" opacity="0.59"/><path d="M-5 156.6L6.4 153.7" stroke="#c2c2c2" stroke-width="5.3" opacity="0.56"/><path d="M24.2 102.8L36 91.4" stroke="#d5d5d5" stroke-width="4.6" opacity="0.93"/><path d="M-4.8 166.5L-2.8 175.7" stroke="#d3d3d3" stroke-width="3.5" opacity="0.68"/><path d="M224.8 188.9L242.1 233.6" stroke="#f2f2f2" stroke-width="3.3" opacity="0.61"/><path d="M108.2 165.9L121.3 181" stroke="#cccccc" stroke-width="2.8" opacity="0.69"/><path d="M101.2 267.3L193 249" stroke="#e2e2e2" stroke-width="3.5" opacity="0.62"/><path d="M180 66L195.7 43.8" stroke="#cfcfcf" stroke-width="3.3" opacity="0.64"/><path d="M171.3 23.5L200.5 -7.4" stroke="#efefef" stroke-width="2.5" opacity="0.91"/><path d="M151.7 66.2L169.1 48.6" stroke="#d4d4d4" stroke-width="4" opacity="0.75"/><path d="M92.7 237.9L106.9 251.3" stroke="#dbdbdb" stroke-width="1.9" opacity="0.67"/><path d="M154 -6.7L214.5 10.1" stroke="#efefef" stroke-width="2" opacity="0.60"/><path d="M5.9 -3.9L27.1 -28.4" stroke="#d3d3d3" stroke-width="3.1" opacity="0.84"/><path d="M135.9 265L147 258" stroke="#cecece" stroke-width="2.7" opacity="0.88"/><path d="M16.6 228L45.8 216.5" stroke="#c5c5c5" stroke-width="4.5" opacity="0.68"/><path d="M144 22.7L165.6 31.8" stroke="#e0e0e0" stroke-width="5.7" opacity="0.67"/><path d="M116.6 117.3L133.3 140.5" stroke="#eaeaea" stroke-width="2.1" opacity="0.88"/><path d="M75.1 30.3L116.2 39.3" stroke="#ededed" stroke-width="3.1" opacity="0.93"/><path d="M47.2 108.6L60.4 69.6" stroke="#d0d0d0" stroke-width="2.5" opacity="0.78"/><path d="M112.4 219.5L121.7 248.1" stroke="#e4e4e4" stroke-width="3.3" opacity="0.74"/><path d="M17.7 94.1L69.6 107.2" stroke="#d5d5d5" stroke-width="2.3" opacity="0.85"/><path d="M241.8 153.3L249.8 133.4" stroke="#d0d0d0" stroke-width="1.6" opacity="0.58"/><path d="M173.7 72L251.5 124.4" stroke="#cfcfcf" stroke-width="1.8" opacity="0.73"/><path d="M131.4 42.3L137.8 32.2" stroke="#e7e7e7" stroke-width="2.7" opacity="0.81"/><path d="M-7 -9.2L1 -17.6" stroke="#c9c9c9" stroke-width="1.6" opacity="0.85"/><path d="M148.8 232.2L160 211.9" stroke="#e9e9e9" stroke-width="1.8" opacity="0.55"/><path d="M220.5 160.4L237 136.1" stroke="#cecece" stroke-width="2" opacity="0.51"/><path d="M166 228.9L180.6 212" stroke="#dfdfdf" stroke-width="3.2" opacity="0.93"/><path d="M2.3 248.8L75.8 197" stroke="#f3f3f3" stroke-width="2.6" opacity="0.72"/><path d="M235.1 124.7L256.9 127.9" stroke="#d5d5d5" stroke-width="3.2" opacity="0.66"/><path d="M172.4 257.2L174.1 274.2" stroke="#cccccc" stroke-width="2" opacity="0.52"/><path d="M176 84.9L185.3 72.9" stroke="#dddddd" stroke-width="3" opacity="0.71"/><path d="M50.6 102.6L57 88.4" stroke="#f2f2f2" stroke-width="5.2" opacity="0.95"/><path d="M156.9 112.4L159 96.7" stroke="#dbdbdb" stroke-width="3.7" opacity="0.74"/><path d="M65.7 204.5L72 216.3" stroke="#e5e5e5" stroke-width="2.9" opacity="0.85"/><path d="M54.8 42.4L93.8 -38" stroke="#e6e6e6" stroke-width="3.9" opacity="0.54"/><path d="M89.7 224.7L181.3 213" stroke="#c1c1c1" stroke-width="2" opacity="0.81"/><path d="M175.8 87.7L200.9 86.3" stroke="#f0f0f0" stroke-width="4.4" opacity="0.54"/><path d="M71.6 65.3L77.2 57.6" stroke="#d0d0d0" stroke-width="1.9" opacity="0.67"/><path d="M1 76.4L20.2 58.4" stroke="#e4e4e4" stroke-width="3.3" opacity="0.76"/><path d="M252 21.1L322.6 -10" stroke="#e4e4e4" stroke-width="5.9" opacity="0.52"/><path d="M79.2 206L92.4 237.1" stroke="#ececec" stroke-width="2.9" opacity="0.63"/><path d="M15.2 253.1L22.8 278.6" stroke="#e1e1e1" stroke-width="5.6" opacity="0.73"/><path d="M227 206.4L260.7 201.8" stroke="#dddddd" stroke-width="4.1" opacity="0.94"/><path d="M6.6 89.5L19.7 89.2" stroke="#dadada" stroke-width="4.7" opacity="0.82"/><path d="M-8.4 182.2L9.8 176.4" stroke="#dedede" stroke-width="3.8" opacity="0.65"/><path d="M218.3 142.4L258.4 123.7" stroke="#cbcbcb" stroke-width="4.5" opacity="0.81"/><path d="M-6.5 125.3L-1.9 110.7" stroke="#c6c6c6" stroke-width="4.6" opacity="0.65"/><path d="M121.2 90.9L139.6 73.5" stroke="#e8e8e8" stroke-width="4.7" opacity="0.65"/><path d="M257.9 125.8L259.9 114.6" stroke="#e7e7e7" stroke-width="2.7" opacity="0.81"/><path d="M172.9 11.7L177.1 -0.9" stroke="#dcdcdc" stroke-width="3.3" opacity="0.90"/><path d="M181 18.4L194 11.4" stroke="#d3d3d3" stroke-width="4.2" opacity="0.75"/><path d="M93.4 221.1L130.8 226.1" stroke="#d5d5d5" stroke-width="6" opacity="0.52"/><path d="M50.6 107.6L77.3 91.5" stroke="#c7c7c7" stroke-width="1.9" opacity="0.79"/><path d="M102.4 262.2L123.4 256.3" stroke="#ededed" stroke-width="2.7" opacity="0.73"/><path d="M30.1 10L41.1 -7.3" stroke="#ececec" stroke-width="2.8" opacity="0.91"/><path d="M36.1 72.2L41.8 100.6" stroke="#dbdbdb" stroke-width="2.5" opacity="0.69"/><path d="M102.4 159.3L129 139.8" stroke="#dedede" stroke-width="4.2" opacity="0.93"/><path d="M42.9 178.7L71.9 173.7" stroke="#d3d3d3" stroke-width="3.3" opacity="0.61"/><path d="M113.6 62.6L140.6 -7.5" stroke="#cdcdcd" stroke-width="3.1" opacity="0.54"/><path d="M138.6 59.9L151.6 84.8" stroke="#f1f1f1" stroke-width="5.3" opacity="0.76"/><path d="M228.4 178.9L252.6 167.5" stroke="#e1e1e1" stroke-width="5.9" opacity="0.93"/><path d="M142.4 259.1L154.5 263.9" stroke="#cccccc" stroke-width="3.5" opacity="0.67"/><path d="M-5.8 155.2L6.6 159.4" stroke="#f5f5f5" stroke-width="3.6" opacity="0.59"/><path d="M22.1 192.4L35.2 208.4" stroke="#ececec" stroke-width="5.2" opacity="0.56"/><path d="M94.4 195L106.7 222.7" stroke="#ebebeb" stroke-width="2.5" opacity="0.55"/><path d="M249.1 177.7L256.2 182.9" stroke="#eaeaea" stroke-width="4.5" opacity="0.72"/><path d="M10.7 61.8L34.9 38.8" stroke="#efefef" stroke-width="1.8" opacity="0.74"/><path d="M183.1 214.7L195 208.2" stroke="#ebebeb" stroke-width="3.2" opacity="0.52"/><path d="M99.9 122.3L114.9 115.4" stroke="#d3d3d3" stroke-width="4.7" opacity="0.74"/><path d="M77.2 26.4L111.6 -51.3" stroke="#f2f2f2" stroke-width="2.4" opacity="0.64"/><path d="M83.9 124.4L128.1 129.5" stroke="#e4e4e4" stroke-width="1.8" opacity="0.62"/><path d="M66.5 129L90.5 146.4" stroke="#f1f1f1" stroke-width="2.8" opacity="0.91"/><path d="M150.1 17.5L183.5 0.6" stroke="#f3f3f3" stroke-width="1.6" opacity="0.65"/><path d="M91.5 227.2L113.7 233.5" stroke="#d1d1d1" stroke-width="2.1" opacity="0.94"/><path d="M124.8 92.1L158.1 50.5" stroke="#e4e4e4" stroke-width="3.2" opacity="0.68"/><path d="M100.9 204.7L131.6 188.7" stroke="#e3e3e3" stroke-width="2.6" opacity="0.93"/><path d="M10.6 42.9L26.7 23.4" stroke="#e6e6e6" stroke-width="5.2" opacity="0.91"/><path d="M241.4 141.9L249.2 138" stroke="#f0f0f0" stroke-width="2.4" opacity="0.63"/><path d="M130.5 17.7L177 -45" stroke="#efefef" stroke-width="3" opacity="0.65"/><path d="M235.1 167.9L248.5 134.8" stroke="#e4e4e4" stroke-width="4.5" opacity="0.65"/><path d="M6.1 105.2L18.9 70.8" stroke="#f2f2f2" stroke-width="4.4" opacity="0.89"/><path d="M-2.8 78.1L31.2 85.7" stroke="#c8c8c8" stroke-width="1.7" opacity="0.56"/><path d="M204.8 15L244.7 18.9" stroke="#dfdfdf" stroke-width="3.4" opacity="0.60"/><path d="M-1.1 170L7.5 153.9" stroke="#c7c7c7" stroke-width="3.3" opacity="0.50"/><path d="M123.2 172.2L137.8 189.7" stroke="#e1e1e1" stroke-width="5.8" opacity="0.56"/><path d="M142.1 47L164 19.3" stroke="#eeeeee" stroke-width="5.7" opacity="0.85"/><path d="M138 87.5L164.9 37.6" stroke="#d5d5d5" stroke-width="5.7" opacity="0.60"/><path d="M211.1 -2.6L218.9 -24.2" stroke="#dedede" stroke-width="3.6" opacity="0.68"/><path d="M247.4 252.7L281.4 256.8" stroke="#d1d1d1" stroke-width="2.2" opacity="0.69"/><path d="M264.8 209.9L324.3 204.8" stroke="#cfcfcf" stroke-width="5.5" opacity="0.65"/><path d="M237.4 90.2L285.6 177.5" stroke="#c6c6c6" stroke-width="1.5" opacity="0.94"/><path d="M-7.4 243.4L23.7 225.6" stroke="#d6d6d6" stroke-width="2.3" opacity="0.79"/><path d="M176.3 100.3L189.4 110.6" stroke="#c2c2c2" stroke-width="5.2" opacity="0.73"/><path d="M54.9 109.7L83.6 80.3" stroke="#f3f3f3" stroke-width="1.7" opacity="0.94"/><path d="M137.1 -9.3L157.5 -38.1" stroke="#d3d3d3" stroke-width="1.7" opacity="0.72"/><path d="M238.9 90.2L261 77.7" stroke="#383838" stroke-width="2.3" opacity="0.38"/><path d="M182.9 3.9L188.6 5.7" stroke="#383838" stroke-width="3.3" opacity="0.49"/><path d="M144.7 93.6L147.6 88.5" stroke="#383838" stroke-width="3.1" opacity="0.45"/><path d="M86 105.9L96.4 111.2" stroke="#383838" stroke-width="3" opacity="0.69"/><path d="M100.6 99.4L109.1 121.7" stroke="#383838" stroke-width="3.7" opacity="0.43"/><path d="M130.3 255.1L142 232.1" stroke="#383838" stroke-width="4.4" opacity="0.58"/><path d="M22.6 160.2L27 156.1" stroke="#383838" stroke-width="3.9" opacity="0.46"/><path d="M168 141.6L183.1 149.8" stroke="#383838" stroke-width="3.2" opacity="0.58"/><path d="M122.4 88.3L128 80.2" stroke="#383838" stroke-width="3.7" opacity="0.61"/><path d="M98.5 183.7L101.4 193.9" stroke="#383838" stroke-width="3.8" opacity="0.64"/><path d="M18.7 205.7L37.4 196" stroke="#383838" stroke-width="2.4" opacity="0.64"/><path d="M223 89.7L226.2 80.6" stroke="#383838" stroke-width="2" opacity="0.67"/><path d="M137.5 135.2L139.7 122.7" stroke="#383838" stroke-width="3.9" opacity="0.40"/><path d="M172.1 45.9L178.3 34.9" stroke="#383838" stroke-width="4.5" opacity="0.50"/><path d="M106.6 181.3L115 190.6" stroke="#383838" stroke-width="4.3" opacity="0.53"/><path d="M117.7 22.7L126.2 34.3" stroke="#383838" stroke-width="1.9" opacity="0.57"/><path d="M190 45L193.2 26" stroke="#383838" stroke-width="2.8" opacity="0.53"/><path d="M61.8 95.7L69.8 102.2" stroke="#383838" stroke-width="3.4" opacity="0.35"/><path d="M67.5 152.4L76.2 158.8" stroke="#383838" stroke-width="2.6" opacity="0.43"/><path d="M216.9 23.6L219.9 32.3" stroke="#383838" stroke-width="3" opacity="0.63"/><path d="M160.6 95.9L169.2 86.2" stroke="#383838" stroke-width="1.6" opacity="0.61"/><path d="M252.1 111.2L258.2 100.4" stroke="#383838" stroke-width="2.8" opacity="0.55"/><path d="M240.5 49.4L245.7 31.2" stroke="#383838" stroke-width="2.7" opacity="0.37"/><path d="M196.6 97.9L204 74.4" stroke="#383838" stroke-width="3.8" opacity="0.63"/><path d="M28 145.4L33.8 158.3" stroke="#383838" stroke-width="5" opacity="0.41"/><path d="M16.9 102.6L34.1 88.3" stroke="#383838" stroke-width="3.8" opacity="0.61"/><path d="M104.4 10.5L122.5 21.6" stroke="#383838" stroke-width="4.2" opacity="0.39"/><path d="M57.4 19.9L60.1 13.6" stroke="#383838" stroke-width="4.1" opacity="0.55"/><path d="M14.3 175.7L19.7 178.7" stroke="#383838" stroke-width="3.9" opacity="0.50"/><path d="M151.8 257.5L157.6 251.9" stroke="#383838" stroke-width="2.7" opacity="0.53"/><path d="M1.6 255.1L7.4 258.6" stroke="#383838" stroke-width="2.8" opacity="0.58"/><path d="M77.7 101.9L82.4 112.3" stroke="#383838" stroke-width="2.4" opacity="0.48"/><path d="M113.4 139.2L119.1 141.4" stroke="#383838" stroke-width="3.4" opacity="0.48"/><path d="M120.7 126.2L124.6 101.9" stroke="#383838" stroke-width="2.7" opacity="0.51"/><path d="M183.8 171.3L190 173" stroke="#383838" stroke-width="4.8" opacity="0.64"/><path d="M9.2 56.7L21 72.7" stroke="#383838" stroke-width="4.3" opacity="0.56"/><path d="M118.2 241.2L124 248.4" stroke="#383838" stroke-width="2.1" opacity="0.65"/><path d="M32.4 35.3L43.2 24.3" stroke="#383838" stroke-width="1.5" opacity="0.60"/><path d="M191.7 42.3L207.4 31.4" stroke="#383838" stroke-width="2.5" opacity="0.42"/><path d="M218 37.6L229.4 28.2" stroke="#383838" stroke-width="2.2" opacity="0.38"/><path d="M13.1 57.7L24.6 66.2" stroke="#383838" stroke-width="3" opacity="0.65"/><path d="M240.2 34.4L249.9 28.8" stroke="#383838" stroke-width="2.3" opacity="0.55"/><path d="M82.9 144.6L90.1 137.2" stroke="#383838" stroke-width="3.4" opacity="0.43"/><path d="M245.8 171.7L250 167.8" stroke="#383838" stroke-width="2.8" opacity="0.57"/><path d="M58.1 140.8L61.6 133.5" stroke="#383838" stroke-width="2.1" opacity="0.47"/><path d="M104.4 10L127.5 17.8" stroke="#383838" stroke-width="5" opacity="0.68"/><path d="M136.8 75L157.5 80.7" stroke="#383838" stroke-width="4.6" opacity="0.67"/><path d="M52.1 72.2L65.9 81.1" stroke="#383838" stroke-width="1.8" opacity="0.40"/><path d="M70.5 230.4L79.5 223.5" stroke="#383838" stroke-width="3.5" opacity="0.39"/><path d="M0.3 50.1L5.3 46.7" stroke="#383838" stroke-width="2.7" opacity="0.51"/><path d="M64.3 191.5L78.2 173.9" stroke="#383838" stroke-width="4.3" opacity="0.60"/><path d="M118.3 192.7L130.4 180" stroke="#383838" stroke-width="3.1" opacity="0.36"/><path d="M133.5 25.1L150.1 9.8" stroke="#383838" stroke-width="1.8" opacity="0.60"/><path d="M190.9 92.7L202.2 73.1" stroke="#383838" stroke-width="4.6" opacity="0.52"/><path d="M38.7 24.3L48.4 12.2" stroke="#383838" stroke-width="3.4" opacity="0.39"/><path d="M121.6 42.3L122.8 32" stroke="#383838" stroke-width="4.8" opacity="0.45"/><path d="M144.4 254.9L158 246" stroke="#383838" stroke-width="2.3" opacity="0.38"/><path d="M27.5 13.8L31.5 -6.4" stroke="#383838" stroke-width="1.8" opacity="0.41"/><path d="M218.7 257.5L227.4 270.8" stroke="#383838" stroke-width="2.5" opacity="0.66"/><path d="M21.9 149.3L36.2 133.5" stroke="#383838" stroke-width="3.3" opacity="0.64"/><path d="M213.6 18.8L217.7 23" stroke="#383838" stroke-width="3.7" opacity="0.59"/><path d="M211.8 88.3L215.9 96.1" stroke="#383838" stroke-width="2.6" opacity="0.68"/><path d="M204.5 8.3L214.5 -3.8" stroke="#383838" stroke-width="2.1" opacity="0.63"/><path d="M200.2 52.6L216.6 41.3" stroke="#383838" stroke-width="1.7" opacity="0.35"/><path d="M229 9.7L240.4 -11.4" stroke="#383838" stroke-width="4.1" opacity="0.57"/><path d="M51.8 161.3L57.2 165.6" stroke="#383838" stroke-width="4" opacity="0.47"/><path d="M42.2 249.2L56.9 266.1" stroke="#383838" stroke-width="4.8" opacity="0.67"/><path d="M193.7 214.8L196 201.9" stroke="#383838" stroke-width="3.7" opacity="0.68"/><path d="M133.4 193L142.3 169.8" stroke="#383838" stroke-width="1.9" opacity="0.69"/><path d="M204.7 65L216.4 52.2" stroke="#383838" stroke-width="3.5" opacity="0.66"/><path d="M149.5 240.8L160.8 222.5" stroke="#383838" stroke-width="4.3" opacity="0.59"/><path d="M244.8 213L247.6 222.4" stroke="#383838" stroke-width="3.9" opacity="0.63"/><path d="M172.5 233.3L174.3 238" stroke="#383838" stroke-width="3.2" opacity="0.36"/><path d="M28.8 209.6L34.8 219.1" stroke="#383838" stroke-width="2" opacity="0.54"/><path d="M21.6 101.6L26.6 111.6" stroke="#383838" stroke-width="1.8" opacity="0.44"/><path d="M182.3 114L186 107.5" stroke="#383838" stroke-width="3.9" opacity="0.36"/><path d="M214 47.5L221.4 50.9" stroke="#383838" stroke-width="2.1" opacity="0.47"/><path d="M212.1 227.5L218.9 237" stroke="#383838" stroke-width="4.6" opacity="0.63"/><path d="M157.7 221L161.5 217.5" stroke="#383838" stroke-width="4.5" opacity="0.39"/><path d="M63.9 145.8L79.2 157.4" stroke="#383838" stroke-width="4.9" opacity="0.61"/><path d="M195.8 171.9L217 161" stroke="#383838" stroke-width="3.8" opacity="0.38"/><path d="M162.2 114.6L179.2 122.8" stroke="#383838" stroke-width="3.7" opacity="0.48"/><path d="M135.8 174.6L145.6 191.4" stroke="#383838" stroke-width="1.6" opacity="0.66"/><path d="M230.9 30.7L241.8 48.4" stroke="#383838" stroke-width="4.6" opacity="0.61"/><path d="M195 9.1L199.4 11.6" stroke="#383838" stroke-width="4.8" opacity="0.45"/><path d="M48.8 236.8L50.3 223.7" stroke="#383838" stroke-width="4.1" opacity="0.57"/><path d="M73 196.7L77.4 200.1" stroke="#383838" stroke-width="3.4" opacity="0.49"/><path d="M21.9 245.1L34.7 267.1" stroke="#383838" stroke-width="2.8" opacity="0.67"/><path d="M84.3 215L91.8 235.4" stroke="#383838" stroke-width="2.7" opacity="0.40"/><path d="M134.2 226.4L145.3 215" stroke="#383838" stroke-width="3.9" opacity="0.67"/><path d="M152.7 250.6L159.1 256.8" stroke="#383838" stroke-width="2.6" opacity="0.68"/><path d="M51.3 82.8L61.8 99" stroke="#383838" stroke-width="2.8" opacity="0.46"/><path d="M206.3 121.9L216.9 100.3" stroke="#383838" stroke-width="3.1" opacity="0.64"/><path d="M165.6 200.9L176.1 203.9" stroke="#383838" stroke-width="3.4" opacity="0.58"/><path d="M220.5 106.2L226.5 95.1" stroke="#383838" stroke-width="4.7" opacity="0.54"/><path d="M75 162.6L79.6 165.1" stroke="#383838" stroke-width="3.4" opacity="0.59"/><path d="M79.5 155.4L88.8 159.3" stroke="#383838" stroke-width="1.7" opacity="0.54"/><path d="M196 174.9L202.8 193.7" stroke="#383838" stroke-width="4.8" opacity="0.41"/><path d="M45.9 186.5L55 176.8" stroke="#383838" stroke-width="4.8" opacity="0.61"/><path d="M88.9 101.3L96.9 105.1" stroke="#383838" stroke-width="4.6" opacity="0.54"/><path d="M135.5 172.7L147 176.7" stroke="#383838" stroke-width="1.7" opacity="0.49"/><path d="M130.6 219.8L141.2 211.6" stroke="#383838" stroke-width="3.5" opacity="0.45"/><path d="M219.6 203.4L231.8 188.7" stroke="#383838" stroke-width="4.1" opacity="0.53"/><path d="M233.6 231.9L236 239.2" stroke="#383838" stroke-width="4" opacity="0.60"/><path d="M159.2 71L171.3 58.1" stroke="#383838" stroke-width="3.3" opacity="0.56"/><path d="M235 79.8L255.8 94.5" stroke="#383838" stroke-width="4.3" opacity="0.48"/><path d="M181.9 18.6L195.4 24" stroke="#383838" stroke-width="4.2" opacity="0.51"/><path d="M130.9 252.1L139 231.7" stroke="#383838" stroke-width="1.6" opacity="0.64"/><path d="M28.7 57.9L40.4 69.1" stroke="#383838" stroke-width="2.3" opacity="0.54"/><path d="M213.3 72.7L215.4 67.4" stroke="#383838" stroke-width="4.2" opacity="0.36"/><path d="M193 1L131 83" stroke="#d0d0d0" stroke-width="6" opacity="0.9" fill="none"/><path d="M47 64Q131 70 197 57T258 90" stroke="#cacaca" stroke-width="5" opacity="0.85" fill="none"/><path d="M59 75L81 123" stroke="#e2e2e2" stroke-width="4" opacity="0.95" fill="none"/><path d="M127 223L168 195" stroke="#ececec" stroke-width="4.2" opacity="1" fill="none"/><path d="M83 197Q90 225 131 258" stroke="#c4c4c4" stroke-width="6" opacity="0.9" fill="none"/><path d="M155 256L188 225" stroke="#d4d4d4" stroke-width="4" opacity="0.9" fill="none"/><path d="M190 62L197 112" stroke="#d8d8d8" stroke-width="3" opacity="0.9" fill="none"/><path d="M1 112L40 94" stroke="#d0d0d0" stroke-width="8" opacity="0.7" fill="none"/><path d="M1 147L36 142" stroke="#dcdcdc" stroke-width="8" opacity="0.75" fill="none"/><path d="M31 164L33 197M42 160L44 196M22 180L52 178" stroke="#dedede" stroke-width="3" opacity="0.85" fill="none"/><path d="M38 55L49 5" stroke="#d2d2d2" stroke-width="4" opacity="0.85" fill="none"/><path d="M18 83L42 47" stroke="#cccccc" stroke-width="4" opacity="0.8" fill="none"/><path d="M90 60L120 10" stroke="#cfcfcf" stroke-width="5" opacity="0.8" fill="none"/><path d="M132 8L150 26" stroke="#e0e0e0" stroke-width="3" opacity="0.9" fill="none"/><path d="M70 96L100 88" stroke="#d6d6d6" stroke-width="4" opacity="0.85" fill="none"/><path d="M112 85L118 110" stroke="#d8d8d8" stroke-width="3" opacity="0.8" fill="none"/><path d="M146 85L150 108" stroke="#dadada" stroke-width="3" opacity="0.8" fill="none"/><path d="M176 170L205 168" stroke="#d0d0d0" stroke-width="4" opacity="0.8" fill="none"/><path d="M238 140L256 105" stroke="#cccccc" stroke-width="4" opacity="0.8" fill="none"/><path d="M205 150L250 135" stroke="#c8c8c8" stroke-width="3" opacity="0.7" fill="none"/><path d="M215 235L256 222" stroke="#cfcfcf" stroke-width="4" opacity="0.8" fill="none"/><path d="M200 200L214 160" stroke="#c6c6c6" stroke-width="3" opacity="0.7" fill="none"/><path d="M1 205L26 212" stroke="#d8d8d8" stroke-width="3" opacity="0.8" fill="none"/><path d="M20 250L60 252" stroke="#cecece" stroke-width="5" opacity="0.7" fill="none"/><path d="M245 130Q262 150 258 175" stroke="#a8a8a8" stroke-width="9" opacity="0.8" fill="none"/></g><rect width="260" height="259" filter="url(#nzl)" opacity="0.4"/><rect width="260" height="259" filter="url(#nz2)" opacity="0.4"/></g></defs><svg x="171" y="1141.2" width="260" height="258.3" viewBox="0 0 260 258.3" preserveAspectRatio="none"><use href="#bg"/><g filter="url(#bl)"><ellipse cx="140" cy="128" rx="5" ry="5" fill="url(#m1)"/><ellipse cx="88" cy="111" rx="4.5" ry="5" fill="url(#m2)"/><ellipse cx="118" cy="139" rx="3.5" ry="3.5" fill="url(#m2)"/><ellipse cx="230" cy="28" rx="7" ry="7" fill="url(#m3)"/></g><rect width="260" height="259" filter="url(#nz2)" opacity="0.22"/></svg><svg x="458" y="1141.2" width="260" height="258.3" viewBox="0 0 260 258.3" preserveAspectRatio="none"><use href="#bg"/><g filter="url(#bl)"><ellipse cx="107.5" cy="124" rx="14" ry="14" fill="url(#m1)"/><ellipse cx="153" cy="143" rx="14.5" ry="14.5" fill="url(#m1)"/><ellipse cx="251" cy="42" rx="15" ry="19" fill="url(#m2)"/><ellipse cx="147" cy="53" rx="6" ry="6" fill="url(#m3)"/><ellipse cx="112" cy="257" rx="10" ry="6" fill="url(#m2)"/><ellipse cx="8" cy="28" rx="5" ry="6" fill="url(#m3)"/></g><rect width="260" height="259" filter="url(#nz2)" opacity="0.22"/></svg><svg x="744.3" y="1141.2" width="260" height="258.3" viewBox="0 0 260 258.3" preserveAspectRatio="none"><use href="#bg"/><g filter="url(#bl)"><ellipse cx="109.5" cy="121.5" rx="22.5" ry="23.5" fill="url(#m1)"/><ellipse cx="154" cy="143" rx="21.5" ry="22.5" fill="url(#m1)"/><ellipse cx="247" cy="40" rx="21" ry="28" fill="url(#m2)"/><ellipse cx="144" cy="52" rx="13" ry="12" fill="url(#m3)"/><ellipse cx="114" cy="257" rx="15" ry="13" fill="url(#m2)"/><ellipse cx="5" cy="24" rx="10" ry="12" fill="url(#m2)"/><ellipse cx="17" cy="66" rx="6" ry="8" fill="url(#m3)"/></g><rect width="260" height="259" filter="url(#nz2)" opacity="0.22"/></svg><svg x="1031" y="1141.2" width="260" height="258.3" viewBox="0 0 260 258.3" preserveAspectRatio="none"><use href="#bg"/><g filter="url(#bl)"><ellipse cx="109" cy="120" rx="33" ry="34" fill="url(#m1)"/><ellipse cx="163.5" cy="144" rx="30" ry="31" fill="url(#m1)"/><ellipse cx="144" cy="52" rx="19.5" ry="18.5" fill="url(#m2)"/><ellipse cx="247" cy="37" rx="25" ry="41" fill="url(#m2)" transform="rotate(6 247 37)"/><ellipse cx="117" cy="257" rx="22" ry="21" fill="url(#m2)"/><ellipse cx="5" cy="22" rx="13" ry="17" fill="url(#m2)"/><g fill="#707070" opacity="0.75"><circle cx="121.5" cy="134.5" r="1.4"/><circle cx="108.5" cy="134.8" r="1.1"/><circle cx="98.5" cy="104.7" r="0.8"/><circle cx="127.4" cy="123.4" r="1.1"/><circle cx="109.1" cy="119" r="1.1"/><circle cx="107.3" cy="110.1" r="1.6"/><circle cx="111.9" cy="117.9" r="0.7"/><circle cx="89.8" cy="114.7" r="1"/><circle cx="111.8" cy="133.4" r="0.7"/></g><g fill="#707070" opacity="0.75"><circle cx="180.9" cy="138.9" r="0.8"/><circle cx="178.1" cy="152.9" r="1.4"/><circle cx="158.5" cy="134.7" r="1.2"/><circle cx="152.4" cy="134.9" r="0.8"/><circle cx="152.9" cy="149.1" r="1.4"/><circle cx="181.6" cy="143.4" r="1.2"/><circle cx="154.4" cy="147.4" r="0.7"/></g><g fill="#707070" opacity="0.75"><circle cx="144.7" cy="60.2" r="1"/><circle cx="136.6" cy="46.6" r="0.8"/><circle cx="154.7" cy="52.8" r="0.9"/><circle cx="145.2" cy="63.1" r="1.1"/><circle cx="148.2" cy="45.4" r="1.3"/></g></g><rect width="260" height="259" filter="url(#nz2)" opacity="0.22"/></svg><svg x="1317.2" y="1141.2" width="260" height="258.3" viewBox="0 0 260 258.3" preserveAspectRatio="none"><use href="#bg"/><g filter="url(#bl)"><rect width="260" height="259" fill="#484848" opacity="0.3"/><ellipse cx="55" cy="78" rx="48" ry="32" fill="#b8b8b8" opacity="0.55" filter="url(#bl2)" transform="rotate(-20 55 78)"/><ellipse cx="93.8" cy="5.5" rx="48.5" ry="31.5" fill="#2e2e2e" opacity="0.5" filter="url(#bl2)"/><ellipse cx="92.8" cy="3" rx="46" ry="29" fill="url(#m4)"/><ellipse cx="9" cy="22.5" rx="23.5" ry="27.5" fill="#2e2e2e" opacity="0.5" filter="url(#bl2)"/><ellipse cx="8" cy="20" rx="21" ry="25" fill="url(#m4)"/><ellipse cx="253" cy="37.5" rx="37.5" ry="58.5" fill="#2e2e2e" opacity="0.5" filter="url(#bl2)" transform="rotate(6 252 35)"/><ellipse cx="252" cy="35" rx="36" ry="57" fill="url(#m4)" transform="rotate(6 252 35)"/><ellipse cx="145.5" cy="59.6" rx="31.5" ry="31" fill="#2e2e2e" opacity="0.5" filter="url(#bl2)"/><ellipse cx="144.5" cy="57.1" rx="29.8" ry="29.3" fill="url(#m4)"/><ellipse cx="104.9" cy="124.3" rx="50.5" ry="52.5" fill="#2e2e2e" opacity="0.5" filter="url(#bl2)"/><ellipse cx="103.9" cy="121.8" rx="49" ry="50.6" fill="url(#m5)"/><ellipse cx="182.9" cy="157.2" rx="43.5" ry="47" fill="#2e2e2e" opacity="0.5" filter="url(#bl2)"/><ellipse cx="181.9" cy="154.7" rx="42" ry="45.3" fill="url(#m5)"/><ellipse cx="117.8" cy="255.2" rx="35" ry="36.5" fill="#2e2e2e" opacity="0.5" filter="url(#bl2)"/><ellipse cx="116.8" cy="252.7" rx="33.3" ry="35" fill="url(#m4)"/><g fill="#707070" opacity="0.75"><circle cx="104.7" cy="127.9" r="1.1"/><circle cx="108.2" cy="124.6" r="1.1"/><circle cx="127.1" cy="104.3" r="1.4"/><circle cx="107.7" cy="140.4" r="0.9"/><circle cx="108.4" cy="126.9" r="0.9"/><circle cx="128.2" cy="105.6" r="1.4"/><circle cx="108" cy="105" r="1"/><circle cx="86.1" cy="99" r="1.5"/><circle cx="110.3" cy="111.8" r="1.2"/><circle cx="93.9" cy="98.6" r="0.9"/><circle cx="95.1" cy="119.5" r="1.5"/><circle cx="118.5" cy="100.8" r="1"/><circle cx="122.8" cy="105.3" r="1.5"/><circle cx="116.2" cy="100" r="1.1"/><circle cx="88" cy="106.1" r="0.8"/><circle cx="94.8" cy="144.3" r="0.7"/><circle cx="126.5" cy="125" r="1"/><circle cx="84" cy="113.4" r="1"/><circle cx="117.1" cy="117.8" r="1.1"/><circle cx="110.8" cy="141.6" r="0.9"/><circle cx="88" cy="139.1" r="1"/><circle cx="77.5" cy="107.4" r="0.8"/><circle cx="117.1" cy="123.6" r="1.4"/><circle cx="93" cy="108" r="1"/><circle cx="112.8" cy="136.9" r="0.7"/><circle cx="94.7" cy="90.3" r="1.6"/><circle cx="101.1" cy="87.8" r="0.7"/><circle cx="96.8" cy="147.6" r="1.4"/><circle cx="79.5" cy="134.1" r="1.3"/><circle cx="110.6" cy="102.7" r="0.9"/><circle cx="93.6" cy="121.9" r="1"/><circle cx="120.5" cy="113.8" r="0.7"/><circle cx="115.7" cy="121.5" r="1.4"/><circle cx="93.5" cy="130.7" r="0.8"/><circle cx="123.1" cy="115.7" r="0.9"/><circle cx="110.4" cy="120.7" r="0.9"/><circle cx="98.8" cy="107.3" r="0.7"/><circle cx="89.1" cy="118.9" r="1.6"/><circle cx="119.5" cy="133.7" r="1.4"/><circle cx="79" cy="134.6" r="1.1"/></g><g fill="#707070" opacity="0.75"><circle cx="168.9" cy="133.2" r="1.4"/><circle cx="206" cy="141.5" r="1.5"/><circle cx="202.5" cy="153.5" r="1.5"/><circle cx="170.3" cy="128.7" r="0.8"/><circle cx="172.3" cy="152.7" r="1.2"/><circle cx="182.3" cy="148.6" r="0.9"/><circle cx="180.4" cy="176.3" r="1.4"/><circle cx="197.5" cy="171" r="0.8"/><circle cx="178.1" cy="143.3" r="0.7"/><circle cx="193.2" cy="140.8" r="0.9"/><circle cx="209.2" cy="147.1" r="1"/><circle cx="203.6" cy="145.1" r="1.3"/><circle cx="192.1" cy="176" r="1.3"/><circle cx="209.1" cy="144.5" r="1"/><circle cx="178.2" cy="158.7" r="0.8"/><circle cx="198.1" cy="156.1" r="1.2"/><circle cx="206.4" cy="150.5" r="1"/><circle cx="176.3" cy="173.5" r="1.1"/><circle cx="177.7" cy="167.7" r="1.3"/><circle cx="209.1" cy="159.7" r="0.7"/><circle cx="185" cy="124.4" r="0.7"/><circle cx="188.7" cy="133.6" r="1.2"/><circle cx="190.6" cy="150.3" r="0.9"/><circle cx="196.1" cy="146.6" r="1.4"/></g><g fill="#707070" opacity="0.75"><circle cx="149" cy="41.8" r="1.1"/><circle cx="144.5" cy="57.4" r="1.3"/><circle cx="128.6" cy="59.8" r="1"/><circle cx="145.7" cy="48" r="1.4"/><circle cx="143" cy="45.9" r="1.2"/><circle cx="141.1" cy="50.1" r="1.2"/><circle cx="147.8" cy="48.6" r="1.4"/><circle cx="137.8" cy="42.3" r="1"/><circle cx="158.4" cy="65.6" r="1.4"/><circle cx="139.1" cy="58.8" r="0.9"/><circle cx="137.9" cy="50" r="1.6"/><circle cx="137.4" cy="52.9" r="1.3"/><circle cx="133" cy="69.9" r="1.5"/><circle cx="129.6" cy="55.7" r="1.3"/><circle cx="150.8" cy="40.9" r="0.7"/><circle cx="135.2" cy="67.3" r="1"/></g><g fill="#707070" opacity="0.75"><circle cx="88" cy="8.2" r="1.3"/><circle cx="111.8" cy="7.8" r="1"/><circle cx="112" cy="6.6" r="0.7"/><circle cx="86.1" cy="3.9" r="0.8"/><circle cx="69.9" cy="9.5" r="0.8"/></g></g><rect width="260" height="259" filter="url(#nz2)" opacity="0.22"/></svg><svg x="1604" y="1141.2" width="260" height="258.3" viewBox="0 0 260 258.3" preserveAspectRatio="none"><use href="#bg"/><g filter="url(#bl)"><rect width="260" height="259" fill="#404040" opacity="0.4"/><ellipse cx="0" cy="15" rx="12" ry="28" fill="url(#m4)"/><ellipse cx="84.5" cy="20.5" rx="76.5" ry="53.5" fill="#2e2e2e" opacity="0.5" filter="url(#bl2)"/><ellipse cx="83.5" cy="18" rx="75" ry="52" fill="url(#m4)"/><ellipse cx="155.7" cy="71.3" rx="36" ry="41.5" fill="#2e2e2e" opacity="0.5" filter="url(#bl2)"/><ellipse cx="154.7" cy="68.8" rx="34.5" ry="40" fill="url(#m4)"/><ellipse cx="88.6" cy="143.7" rx="74.5" ry="74.5" fill="#2e2e2e" opacity="0.5" filter="url(#bl2)"/><ellipse cx="87.6" cy="141.2" rx="72.8" ry="72.8" fill="url(#m5)"/><ellipse cx="200" cy="178.5" rx="60" ry="62" fill="#2e2e2e" opacity="0.5" filter="url(#bl2)"/><ellipse cx="199" cy="176" rx="58.3" ry="60.3" fill="url(#m4)"/><ellipse cx="241" cy="52.5" rx="59.5" ry="101.5" fill="#2e2e2e" opacity="0.5" filter="url(#bl2)" transform="rotate(-15 240 50)"/><ellipse cx="240" cy="50" rx="58" ry="100" fill="url(#m4)" transform="rotate(-15 240 50)"/><ellipse cx="121" cy="242.5" rx="46" ry="43" fill="#2e2e2e" opacity="0.5" filter="url(#bl2)"/><ellipse cx="120" cy="240" rx="44.3" ry="41.3" fill="url(#m4)"/><g fill="#707070" opacity="0.75"><circle cx="94" cy="181.3" r="0.8"/><circle cx="84" cy="125.5" r="0.9"/><circle cx="108" cy="137.9" r="1.3"/><circle cx="58.5" cy="145.6" r="1.1"/><circle cx="102" cy="176" r="0.8"/><circle cx="88.2" cy="144.3" r="0.9"/><circle cx="52.1" cy="161.2" r="1"/><circle cx="104.7" cy="152.9" r="1.6"/><circle cx="120" cy="151.6" r="1"/><circle cx="73.8" cy="116" r="1.3"/><circle cx="51.6" cy="138.5" r="1.5"/><circle cx="72.9" cy="129.8" r="0.8"/><circle cx="117" cy="127.6" r="0.9"/><circle cx="119.6" cy="126.7" r="1.4"/><circle cx="105.1" cy="121.8" r="1"/><circle cx="99.4" cy="126.6" r="1.4"/><circle cx="117.9" cy="159.3" r="1.3"/><circle cx="126.6" cy="125.3" r="1.2"/><circle cx="93.2" cy="154.4" r="1.2"/><circle cx="75.7" cy="137.3" r="1.5"/><circle cx="50.3" cy="136.3" r="0.9"/><circle cx="87.8" cy="142.9" r="1"/><circle cx="84.5" cy="166.9" r="1"/><circle cx="108.9" cy="101.6" r="0.9"/><circle cx="73.1" cy="149" r="1.3"/><circle cx="107.4" cy="134.8" r="1.4"/><circle cx="86" cy="142.9" r="1.4"/><circle cx="77.6" cy="153.4" r="1.1"/><circle cx="90.9" cy="166.4" r="1.1"/><circle cx="57.8" cy="154.9" r="1"/><circle cx="98.4" cy="145.3" r="0.8"/><circle cx="61" cy="134.5" r="1.4"/><circle cx="50.1" cy="136.8" r="1.6"/><circle cx="93" cy="140.2" r="0.8"/><circle cx="62.1" cy="160.1" r="1.4"/><circle cx="61.5" cy="173.2" r="0.7"/><circle cx="98.1" cy="120.4" r="1.5"/><circle cx="130.5" cy="147.1" r="1.4"/><circle cx="121.5" cy="136" r="0.9"/><circle cx="116.7" cy="132.4" r="0.8"/><circle cx="62.8" cy="118.6" r="1.1"/><circle cx="96.4" cy="150.9" r="1.2"/><circle cx="72.4" cy="142.6" r="1.1"/><circle cx="81.8" cy="100.7" r="1.1"/><circle cx="66.5" cy="154.6" r="0.9"/><circle cx="97.3" cy="166.2" r="0.8"/><circle cx="81.8" cy="100.9" r="1.3"/><circle cx="114.3" cy="141.8" r="1.1"/><circle cx="124.2" cy="162.3" r="1.4"/><circle cx="50.1" cy="137.4" r="0.9"/><circle cx="91.8" cy="170.1" r="1.4"/><circle cx="85.4" cy="135.1" r="1.3"/><circle cx="119.9" cy="117.1" r="1.5"/><circle cx="108.6" cy="135.6" r="1"/><circle cx="45.4" cy="125.1" r="1"/><circle cx="126" cy="123.2" r="1.2"/><circle cx="56.7" cy="107.1" r="1.4"/><circle cx="75.9" cy="177.4" r="0.9"/><circle cx="57.7" cy="169.9" r="1.5"/><circle cx="78.5" cy="160.3" r="1.3"/></g><g fill="#707070" opacity="0.75"><circle cx="183.6" cy="177.3" r="0.8"/><circle cx="206.9" cy="169.7" r="1.2"/><circle cx="213.2" cy="165.6" r="1.2"/><circle cx="199.6" cy="166.9" r="1"/><circle cx="198" cy="147.7" r="1.4"/><circle cx="214.7" cy="187.4" r="0.8"/><circle cx="170.5" cy="170.6" r="1.2"/><circle cx="208.4" cy="148.8" r="1.4"/><circle cx="220.6" cy="184.2" r="1.3"/><circle cx="201.4" cy="147.7" r="0.8"/><circle cx="203.3" cy="189.2" r="1"/><circle cx="210.9" cy="156.3" r="1.5"/><circle cx="211.1" cy="165.9" r="1"/><circle cx="199.5" cy="172.3" r="1.1"/><circle cx="215" cy="165" r="1.2"/><circle cx="224.8" cy="191.9" r="1.5"/><circle cx="205.9" cy="175.3" r="0.8"/><circle cx="200.4" cy="170.8" r="0.8"/><circle cx="170.5" cy="172.7" r="1.1"/><circle cx="181.9" cy="190.1" r="0.8"/><circle cx="191.9" cy="164.4" r="1.2"/><circle cx="213.1" cy="169.7" r="1.2"/><circle cx="194.1" cy="162.9" r="0.9"/><circle cx="240.9" cy="170.8" r="0.8"/><circle cx="195.3" cy="136.6" r="0.9"/><circle cx="199.3" cy="167" r="1"/><circle cx="192.3" cy="146.2" r="1.4"/><circle cx="223.1" cy="183.6" r="1.5"/><circle cx="184.1" cy="159.2" r="1.1"/><circle cx="232.2" cy="169.5" r="0.7"/></g><g fill="#707070" opacity="0.75"><circle cx="140.8" cy="59.1" r="1.2"/><circle cx="160.5" cy="87" r="1.4"/><circle cx="149.3" cy="58" r="1.2"/><circle cx="149.2" cy="76.7" r="1.6"/><circle cx="159.7" cy="65.9" r="1.5"/><circle cx="143.1" cy="57" r="1"/><circle cx="147.5" cy="51.4" r="1.3"/><circle cx="150.2" cy="58.5" r="1.4"/><circle cx="177.8" cy="63.4" r="1.3"/><circle cx="156.1" cy="66.4" r="0.8"/><circle cx="166.8" cy="61.2" r="1"/><circle cx="165.3" cy="57.9" r="1.2"/><circle cx="149.2" cy="68.4" r="1.2"/><circle cx="159.9" cy="58.1" r="0.9"/><circle cx="150.8" cy="68.4" r="1.1"/><circle cx="162.6" cy="48.1" r="1.2"/><circle cx="160.3" cy="58.6" r="1.2"/><circle cx="141.8" cy="79.3" r="0.8"/><circle cx="155.9" cy="58.6" r="0.8"/><circle cx="162.8" cy="44" r="1.1"/><circle cx="144.7" cy="72.2" r="0.9"/><circle cx="147.3" cy="59.1" r="0.8"/><circle cx="145.5" cy="68.7" r="1.3"/><circle cx="163.7" cy="46.8" r="1.1"/></g><g fill="#707070" opacity="0.75"><circle cx="68.4" cy="26.1" r="1.5"/><circle cx="69.1" cy="24.8" r="1.2"/><circle cx="105.6" cy="34.2" r="1.3"/><circle cx="98" cy="16.5" r="1"/><circle cx="123.2" cy="31" r="1.3"/><circle cx="130.6" cy="26.8" r="1.6"/><circle cx="78.4" cy="10" r="0.8"/><circle cx="121.9" cy="23.3" r="0.8"/><circle cx="101.7" cy="30.5" r="0.7"/><circle cx="70.9" cy="24.8" r="1.5"/><circle cx="65.4" cy="20.2" r="1.1"/><circle cx="81.8" cy="11.3" r="1"/></g><g fill="#707070" opacity="0.75"><circle cx="98.2" cy="244.2" r="1.3"/><circle cx="121.8" cy="243" r="1"/><circle cx="116.3" cy="263.1" r="1.3"/><circle cx="103.6" cy="230" r="1.3"/><circle cx="131.1" cy="254" r="0.8"/><circle cx="125.5" cy="237.6" r="1.4"/><circle cx="140.2" cy="250.3" r="1"/><circle cx="99.3" cy="253.8" r="0.7"/></g><g fill="#707070" opacity="0.75"><circle cx="235.1" cy="90.5" r="1.3"/><circle cx="240.7" cy="61.3" r="0.9"/><circle cx="241.3" cy="79.4" r="1.4"/><circle cx="245.3" cy="83.2" r="0.9"/><circle cx="232.6" cy="85.7" r="1.5"/><circle cx="234.3" cy="68.1" r="0.9"/><circle cx="246.5" cy="88.4" r="1.4"/><circle cx="241.8" cy="48.8" r="1.4"/></g></g><rect width="260" height="259" filter="url(#nz2)" opacity="0.22"/></svg>
<g font-family="Liberation Serif, serif" font-weight="bold" font-size="40" text-anchor="middle" fill="#8b9099" stroke="#8b9099" stroke-width="1.3" stroke-linejoin="round" transform="translate(1.1 1.7)">
<text x="303" y="1445" textLength="104" lengthAdjust="spacingAndGlyphs">Stage1</text>
<text x="585.5" y="1445" textLength="104" lengthAdjust="spacingAndGlyphs">Stage2</text>
<text x="873" y="1445" textLength="104" lengthAdjust="spacingAndGlyphs">Stage3</text>
<text x="1160" y="1445" textLength="104" lengthAdjust="spacingAndGlyphs">Stage4</text>
<text x="1448" y="1445" textLength="104" lengthAdjust="spacingAndGlyphs">Stage5</text>
<text x="1732" y="1445" textLength="104" lengthAdjust="spacingAndGlyphs">Stage6</text>
</g>
<g font-family="Liberation Serif, serif" font-weight="bold" font-size="40" text-anchor="middle" fill="#3158a8" stroke="#3158a8" stroke-width="1" stroke-linejoin="round">
<text x="303" y="1445" textLength="104" lengthAdjust="spacingAndGlyphs">Stage1</text>
<text x="585.5" y="1445" textLength="104" lengthAdjust="spacingAndGlyphs">Stage2</text>
<text x="873" y="1445" textLength="104" lengthAdjust="spacingAndGlyphs">Stage3</text>
<text x="1160" y="1445" textLength="104" lengthAdjust="spacingAndGlyphs">Stage4</text>
<text x="1448" y="1445" textLength="104" lengthAdjust="spacingAndGlyphs">Stage5</text>
<text x="1732" y="1445" textLength="104" lengthAdjust="spacingAndGlyphs">Stage6</text>
</g>
<rect x="1987.9" y="0" width="1.1" height="1153" fill="#000"/>
</svg>
</body></html>
